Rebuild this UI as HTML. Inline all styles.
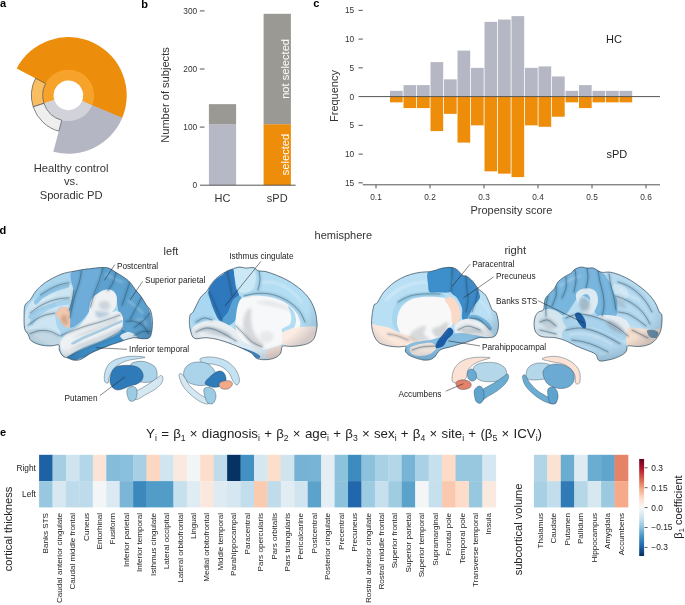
<!DOCTYPE html>
<html><head><meta charset="utf-8"><style>
html,body{margin:0;padding:0;background:#fff;width:685px;height:605px;overflow:hidden}
svg{display:block;font-family:"Liberation Sans", sans-serif;will-change:transform}
</style></head><body>
<svg width="685" height="605" viewBox="0 0 685 605">
<text x="0.00" y="7.20" font-size="11" text-anchor="start" fill="#000" font-weight="bold">a</text>
<text x="141.30" y="8.20" font-size="11" text-anchor="start" fill="#000" font-weight="bold">b</text>
<text x="313.30" y="7.30" font-size="11" text-anchor="start" fill="#000" font-weight="bold">c</text>
<text x="-0.60" y="234.20" font-size="11" text-anchor="start" fill="#000" font-weight="bold">d</text>
<text x="0.00" y="435.60" font-size="11" text-anchor="start" fill="#000" font-weight="bold">e</text>
<path d="M122.03,118.27 A58.3,58.3 0 0 0 16.69,68.48 L53.50,87.64 A16.8,16.8 0 0 1 83.85,101.99 Z" fill="#EC8D0B"/>
<path d="M53.31,151.71 A58.3,58.3 0 0 0 122.26,117.71 L83.92,101.83 A16.8,16.8 0 0 1 64.05,111.63 Z" fill="#B4B6C4"/>
<path d="M92.14,105.23 A25.7,25.7 0 1 0 44.04,103.60 L54.37,100.12 A14.8,14.8 0 1 1 82.07,101.06 Z" fill="#F7A32B"/>
<path d="M43.96,103.34 A25.7,25.7 0 0 0 92.14,105.23 L82.07,101.06 A14.8,14.8 0 0 1 54.32,99.97 Z" fill="#D1D2DA"/>
<path d="M35.58,78.32 A37.0,37.0 0 0 0 33.21,106.83 L43.96,103.34 A25.7,25.7 0 0 1 45.60,83.53 Z" fill="#F9BD62" stroke="#444" stroke-width="0.65"/>
<path d="M33.21,106.83 A37.0,37.0 0 0 0 58.82,131.14 L61.75,120.22 A25.7,25.7 0 0 1 43.96,103.34 Z" fill="#EEEEEE" stroke="#444" stroke-width="0.65"/>
<text x="71.10" y="171.50" font-size="11.2" text-anchor="middle" fill="#333">Healthy control</text>
<text x="71.10" y="185.40" font-size="11.2" text-anchor="middle" fill="#333">vs.</text>
<text x="71.10" y="199.00" font-size="11.2" text-anchor="middle" fill="#333">Sporadic PD</text>
<text x="197.20" y="188.15" font-size="8.3" text-anchor="end" fill="#333">0</text>
<line x1="199.8" y1="127.10" x2="204.5" y2="127.10" stroke="#555" stroke-width="1"/>
<text x="197.20" y="130.05" font-size="8.3" text-anchor="end" fill="#333">100</text>
<line x1="199.8" y1="69.00" x2="204.5" y2="69.00" stroke="#555" stroke-width="1"/>
<text x="197.20" y="71.95" font-size="8.3" text-anchor="end" fill="#333">200</text>
<line x1="199.8" y1="10.90" x2="204.5" y2="10.90" stroke="#555" stroke-width="1"/>
<text x="197.20" y="13.85" font-size="8.3" text-anchor="end" fill="#333">300</text>
<rect x="208.9" y="124.19" width="27.2" height="61.00" fill="#B7B8C5"/>
<rect x="208.9" y="104.15" width="27.2" height="20.04" fill="#9A9994"/>
<rect x="263.6" y="124.19" width="27.3" height="61.00" fill="#EE8D0A"/>
<rect x="263.6" y="13.81" width="27.3" height="110.39" fill="#9A9994"/>
<line x1="200" y1="185.2" x2="295.6" y2="185.2" stroke="#555" stroke-width="1"/>
<text x="222.50" y="201.50" font-size="11" text-anchor="middle" fill="#333">HC</text>
<text x="277.20" y="201.50" font-size="11" text-anchor="middle" fill="#333">sPD</text>
<text x="168.60" y="95.00" font-size="11.1" text-anchor="middle" fill="#333" transform="rotate(-90 168.6 95)">Number of subjects</text>
<text x="289.30" y="68.90" font-size="11.1" text-anchor="middle" fill="#fff" transform="rotate(-90 289.3 68.9)">not selected</text>
<text x="289.30" y="154.50" font-size="11.1" text-anchor="middle" fill="#fff" transform="rotate(-90 289.3 154.5)">selected</text>
<rect x="390.00" y="90.85" width="12.70" height="5.75" fill="#B5B7C5"/>
<rect x="390.00" y="96.60" width="12.70" height="5.75" fill="#EE8D0A"/>
<rect x="403.50" y="85.10" width="12.70" height="11.50" fill="#B5B7C5"/>
<rect x="403.50" y="96.60" width="12.70" height="11.50" fill="#EE8D0A"/>
<rect x="417.00" y="85.10" width="12.70" height="11.50" fill="#B5B7C5"/>
<rect x="417.00" y="96.60" width="12.70" height="11.50" fill="#EE8D0A"/>
<rect x="430.50" y="62.10" width="12.70" height="34.50" fill="#B5B7C5"/>
<rect x="430.50" y="96.60" width="12.70" height="34.50" fill="#EE8D0A"/>
<rect x="444.00" y="79.35" width="12.70" height="17.25" fill="#B5B7C5"/>
<rect x="444.00" y="96.60" width="12.70" height="17.25" fill="#EE8D0A"/>
<rect x="457.50" y="50.60" width="12.70" height="46.00" fill="#B5B7C5"/>
<rect x="457.50" y="96.60" width="12.70" height="46.00" fill="#EE8D0A"/>
<rect x="471.00" y="67.85" width="12.70" height="28.75" fill="#B5B7C5"/>
<rect x="471.00" y="96.60" width="12.70" height="28.75" fill="#EE8D0A"/>
<rect x="484.50" y="21.85" width="12.70" height="74.75" fill="#B5B7C5"/>
<rect x="484.50" y="96.60" width="12.70" height="74.75" fill="#EE8D0A"/>
<rect x="498.00" y="19.55" width="12.70" height="77.05" fill="#B5B7C5"/>
<rect x="498.00" y="96.60" width="12.70" height="77.05" fill="#EE8D0A"/>
<rect x="511.50" y="16.10" width="12.70" height="80.50" fill="#B5B7C5"/>
<rect x="511.50" y="96.60" width="12.70" height="80.50" fill="#EE8D0A"/>
<rect x="525.00" y="67.85" width="12.70" height="28.75" fill="#B5B7C5"/>
<rect x="525.00" y="96.60" width="12.70" height="28.75" fill="#EE8D0A"/>
<rect x="538.50" y="66.41" width="12.70" height="30.19" fill="#B5B7C5"/>
<rect x="538.50" y="96.60" width="12.70" height="30.19" fill="#EE8D0A"/>
<rect x="552.00" y="76.47" width="12.70" height="20.12" fill="#B5B7C5"/>
<rect x="552.00" y="96.60" width="12.70" height="20.12" fill="#EE8D0A"/>
<rect x="565.50" y="90.85" width="12.70" height="5.75" fill="#B5B7C5"/>
<rect x="565.50" y="96.60" width="12.70" height="5.75" fill="#EE8D0A"/>
<rect x="579.00" y="85.10" width="12.70" height="11.50" fill="#B5B7C5"/>
<rect x="579.00" y="96.60" width="12.70" height="11.50" fill="#EE8D0A"/>
<rect x="592.50" y="90.85" width="12.70" height="5.75" fill="#B5B7C5"/>
<rect x="592.50" y="96.60" width="12.70" height="5.75" fill="#EE8D0A"/>
<rect x="606.00" y="90.85" width="12.70" height="5.75" fill="#B5B7C5"/>
<rect x="606.00" y="96.60" width="12.70" height="5.75" fill="#EE8D0A"/>
<rect x="619.50" y="90.85" width="12.70" height="5.75" fill="#B5B7C5"/>
<rect x="619.50" y="96.60" width="12.70" height="5.75" fill="#EE8D0A"/>
<line x1="358.5" y1="96.6" x2="660" y2="96.6" stroke="#555" stroke-width="1"/>
<line x1="358.5" y1="10.35" x2="362.8" y2="10.35" stroke="#555" stroke-width="1"/>
<text x="354.20" y="13.30" font-size="8.3" text-anchor="end" fill="#333">15</text>
<line x1="358.5" y1="39.10" x2="362.8" y2="39.10" stroke="#555" stroke-width="1"/>
<text x="354.20" y="42.05" font-size="8.3" text-anchor="end" fill="#333">10</text>
<line x1="358.5" y1="67.85" x2="362.8" y2="67.85" stroke="#555" stroke-width="1"/>
<text x="354.20" y="70.80" font-size="8.3" text-anchor="end" fill="#333">5</text>
<text x="354.20" y="99.55" font-size="8.3" text-anchor="end" fill="#333">0</text>
<line x1="358.5" y1="125.35" x2="362.8" y2="125.35" stroke="#555" stroke-width="1"/>
<text x="354.20" y="128.30" font-size="8.3" text-anchor="end" fill="#333">5</text>
<line x1="358.5" y1="154.10" x2="362.8" y2="154.10" stroke="#555" stroke-width="1"/>
<text x="354.20" y="157.05" font-size="8.3" text-anchor="end" fill="#333">10</text>
<line x1="358.5" y1="182.85" x2="362.8" y2="182.85" stroke="#555" stroke-width="1"/>
<text x="354.20" y="185.80" font-size="8.3" text-anchor="end" fill="#333">15</text>
<line x1="362.8" y1="184.8" x2="660" y2="184.8" stroke="#555" stroke-width="1"/>
<line x1="376.00" y1="184.8" x2="376.00" y2="188.40" stroke="#555" stroke-width="1"/>
<text x="376.00" y="200.30" font-size="8.3" text-anchor="middle" fill="#333">0.1</text>
<line x1="430.00" y1="184.8" x2="430.00" y2="188.40" stroke="#555" stroke-width="1"/>
<text x="430.00" y="200.30" font-size="8.3" text-anchor="middle" fill="#333">0.2</text>
<line x1="484.00" y1="184.8" x2="484.00" y2="188.40" stroke="#555" stroke-width="1"/>
<text x="484.00" y="200.30" font-size="8.3" text-anchor="middle" fill="#333">0.3</text>
<line x1="538.00" y1="184.8" x2="538.00" y2="188.40" stroke="#555" stroke-width="1"/>
<text x="538.00" y="200.30" font-size="8.3" text-anchor="middle" fill="#333">0.4</text>
<line x1="592.00" y1="184.8" x2="592.00" y2="188.40" stroke="#555" stroke-width="1"/>
<text x="592.00" y="200.30" font-size="8.3" text-anchor="middle" fill="#333">0.5</text>
<line x1="646.00" y1="184.8" x2="646.00" y2="188.40" stroke="#555" stroke-width="1"/>
<text x="646.00" y="200.30" font-size="8.3" text-anchor="middle" fill="#333">0.6</text>
<text x="511.40" y="213.60" font-size="11" text-anchor="middle" fill="#333">Propensity score</text>
<text x="337.50" y="96.00" font-size="11" text-anchor="middle" fill="#333" transform="rotate(-90 337.5 96)">Frequency</text>
<text x="606.00" y="43.20" font-size="11" text-anchor="start" fill="#222">HC</text>
<text x="606.50" y="157.80" font-size="11" text-anchor="start" fill="#222">sPD</text>
<text x="314.60" y="239.20" font-size="11" text-anchor="start" fill="#333">hemisphere</text>
<text x="163.60" y="254.60" font-size="11" text-anchor="start" fill="#333">left</text>
<text x="504.40" y="254.00" font-size="11.2" text-anchor="start" fill="#333">right</text>
<defs><filter id="soft" x="-5%" y="-5%" width="110%" height="110%"><feGaussianBlur stdDeviation="0.35"/></filter><filter id="blur2" x="-20%" y="-20%" width="140%" height="140%"><feGaussianBlur stdDeviation="1.6"/></filter><filter id="blur1" x="-20%" y="-20%" width="140%" height="140%"><feGaussianBlur stdDeviation="0.8"/></filter><filter id="contour" x="0" y="0" width="100%" height="100%" color-interpolation-filters="sRGB"><feTurbulence type="fractalNoise" baseFrequency="0.05 0.065" numOctaves="1" seed="11" result="n"/><feColorMatrix in="n" type="matrix" values="0 0 0 0 0  0 0 0 0 0  0 0 0 0 0  1 0 0 0 0" result="a"/><feComponentTransfer in="a" result="b"><feFuncA type="table" tableValues="0 0 0 0 0 1 0 0 0 0 0 1 0 0 0 0 0 0"/></feComponentTransfer><feFlood flood-color="#1F3A50" result="f"/><feComposite in="f" in2="b" operator="in" result="c"/><feComposite in="c" in2="SourceAlpha" operator="in"/></filter><radialGradient id="shade" cx="0.45" cy="0.4" r="0.6"><stop offset="0.8" stop-color="#1E3A52" stop-opacity="0"/><stop offset="1" stop-color="#1E3A52" stop-opacity="0.18"/></radialGradient></defs>
<clipPath id="b1"><path d="M25.10,305.00 C24.08,307.55 24.18,311.28 24.10,315.20 C24.02,319.12 23.92,325.27 24.60,328.50 C25.28,331.73 27.10,332.55 28.20,334.60 C29.30,336.65 29.17,339.08 31.20,340.80 C33.23,342.52 37.15,344.05 40.40,344.90 C43.65,345.75 47.63,345.90 50.70,345.90 C53.77,345.90 57.37,344.22 58.80,344.90 C60.23,345.58 58.62,348.13 59.30,350.00 C59.98,351.87 61.45,354.75 62.90,356.10 C64.35,357.45 66.12,357.42 68.00,358.10 C69.88,358.78 71.98,360.02 74.20,360.20 C76.42,360.38 78.48,360.40 81.30,359.20 C84.12,358.00 87.93,354.72 91.10,353.00 C94.27,351.28 97.07,350.25 100.30,348.90 C103.53,347.55 107.43,346.00 110.50,344.90 C113.57,343.80 116.13,343.17 118.70,342.30 C121.27,341.43 123.35,340.47 125.90,339.70 C128.45,338.93 131.28,337.87 134.00,337.70 C136.72,337.53 139.63,338.70 142.20,338.70 C144.77,338.70 147.78,339.07 149.40,337.70 C151.02,336.33 151.40,333.40 151.90,330.50 C152.40,327.60 152.65,323.70 152.40,320.30 C152.15,316.90 151.42,312.67 150.40,310.10 C149.38,307.53 147.83,307.13 146.30,304.90 C144.77,302.67 142.90,299.08 141.20,296.70 C139.50,294.32 137.97,292.98 136.10,290.60 C134.23,288.22 132.05,284.62 130.00,282.40 C127.95,280.18 126.18,279.00 123.80,277.30 C121.42,275.60 118.25,273.73 115.70,272.20 C113.15,270.67 111.07,268.87 108.50,268.10 C105.93,267.33 103.20,267.52 100.30,267.60 C97.40,267.68 93.58,268.33 91.10,268.60 C88.62,268.87 88.22,268.77 85.40,269.20 C82.58,269.63 78.28,270.35 74.20,271.20 C70.12,272.05 65.68,272.43 60.90,274.30 C56.12,276.17 49.65,279.62 45.50,282.40 C41.35,285.18 38.55,288.08 36.00,291.00 C33.45,293.92 32.02,297.57 30.20,299.90 C28.38,302.23 26.12,302.45 25.10,305.00 Z"/></clipPath>
<g clip-path="url(#b1)">
<path d="M25.10,305.00 C24.08,307.55 24.18,311.28 24.10,315.20 C24.02,319.12 23.92,325.27 24.60,328.50 C25.28,331.73 27.10,332.55 28.20,334.60 C29.30,336.65 29.17,339.08 31.20,340.80 C33.23,342.52 37.15,344.05 40.40,344.90 C43.65,345.75 47.63,345.90 50.70,345.90 C53.77,345.90 57.37,344.22 58.80,344.90 C60.23,345.58 58.62,348.13 59.30,350.00 C59.98,351.87 61.45,354.75 62.90,356.10 C64.35,357.45 66.12,357.42 68.00,358.10 C69.88,358.78 71.98,360.02 74.20,360.20 C76.42,360.38 78.48,360.40 81.30,359.20 C84.12,358.00 87.93,354.72 91.10,353.00 C94.27,351.28 97.07,350.25 100.30,348.90 C103.53,347.55 107.43,346.00 110.50,344.90 C113.57,343.80 116.13,343.17 118.70,342.30 C121.27,341.43 123.35,340.47 125.90,339.70 C128.45,338.93 131.28,337.87 134.00,337.70 C136.72,337.53 139.63,338.70 142.20,338.70 C144.77,338.70 147.78,339.07 149.40,337.70 C151.02,336.33 151.40,333.40 151.90,330.50 C152.40,327.60 152.65,323.70 152.40,320.30 C152.15,316.90 151.42,312.67 150.40,310.10 C149.38,307.53 147.83,307.13 146.30,304.90 C144.77,302.67 142.90,299.08 141.20,296.70 C139.50,294.32 137.97,292.98 136.10,290.60 C134.23,288.22 132.05,284.62 130.00,282.40 C127.95,280.18 126.18,279.00 123.80,277.30 C121.42,275.60 118.25,273.73 115.70,272.20 C113.15,270.67 111.07,268.87 108.50,268.10 C105.93,267.33 103.20,267.52 100.30,267.60 C97.40,267.68 93.58,268.33 91.10,268.60 C88.62,268.87 88.22,268.77 85.40,269.20 C82.58,269.63 78.28,270.35 74.20,271.20 C70.12,272.05 65.68,272.43 60.90,274.30 C56.12,276.17 49.65,279.62 45.50,282.40 C41.35,285.18 38.55,288.08 36.00,291.00 C33.45,293.92 32.02,297.57 30.20,299.90 C28.38,302.23 26.12,302.45 25.10,305.00 Z" fill="#A9D5EE"/>
<g filter="url(#soft)">
<path d="M26.13,311.09 C27.49,307.69 29.20,303.60 32.26,300.87 C35.33,298.15 40.44,296.96 44.52,294.74 C48.61,292.53 52.70,289.57 56.79,287.59 C60.87,285.61 66.26,282.38 69.05,282.89 C71.84,283.40 73.14,287.66 73.55,290.66 C73.95,293.65 72.25,297.81 71.50,300.87 C70.75,303.94 70.65,308.10 69.05,309.05 C67.45,310.00 64.11,305.92 61.90,306.60 C59.68,307.28 56.62,310.00 55.77,313.14 C54.91,316.27 55.94,321.99 56.79,325.40 C57.64,328.81 60.47,330.51 60.87,333.57 C61.28,336.64 61.96,342.09 59.24,343.79 C56.51,345.50 49.02,344.47 44.52,343.79 C40.03,343.11 35.50,341.75 32.26,339.71 C29.03,337.66 26.47,334.60 25.11,331.53 C23.75,328.47 23.92,324.72 24.09,321.31 C24.26,317.91 24.77,314.50 26.13,311.09 Z" fill="#CDE5F2"/>
<path d="M30.22,321.31 C31.24,318.93 35.33,313.82 38.39,311.09 C41.46,308.37 45.21,306.67 48.61,304.96 C52.02,303.26 55.42,301.90 58.83,300.87 C62.24,299.85 67.41,298.32 69.05,298.83 C70.68,299.34 70.34,302.75 68.64,303.94 C66.94,305.13 62.17,304.96 58.83,305.98 C55.49,307.01 51.85,308.37 48.61,310.07 C45.38,311.77 42.14,313.65 39.42,316.20 C36.69,318.76 33.80,324.55 32.26,325.40 C30.73,326.25 29.20,323.70 30.22,321.31 Z" fill="#A9D3EC"/>
<path d="M25.11,331.53 C25.79,329.76 32.09,328.87 36.35,329.08 C40.61,329.28 46.74,331.16 50.66,332.76 C54.57,334.36 58.32,336.67 59.85,338.68 C61.39,340.69 62.41,343.90 59.85,344.82 C57.30,345.73 49.12,345.05 44.52,344.20 C39.93,343.35 35.50,341.82 32.26,339.71 C29.03,337.59 24.43,333.30 25.11,331.53 Z" fill="#C3D8E4"/>
<path d="M34.31,300.87 C35.33,299.00 39.42,295.77 42.48,293.72 C45.55,291.68 49.29,290.08 52.70,288.61 C56.11,287.15 60.19,285.68 62.92,284.93 C65.64,284.18 68.16,283.67 69.05,284.12 C69.94,284.56 69.59,286.67 68.23,287.59 C66.87,288.51 63.80,288.61 60.87,289.63 C57.95,290.66 53.72,292.19 50.66,293.72 C47.59,295.25 44.87,296.96 42.48,298.83 C40.10,300.70 37.71,304.62 36.35,304.96 C34.99,305.30 33.28,302.75 34.31,300.87 Z" fill="#8FC5E5"/>
<path d="M28.17,317.22 C28.52,315.86 31.92,312.80 34.31,311.09 C36.69,309.39 39.76,308.20 42.48,307.01 C45.21,305.81 48.44,304.62 50.66,303.94 C52.87,303.26 55.08,302.48 55.77,302.92 C56.45,303.36 55.94,305.75 54.74,306.60 C53.55,307.45 51.00,307.11 48.61,308.03 C46.23,308.95 43.16,310.24 40.44,312.12 C37.71,313.99 34.31,318.42 32.26,319.27 C30.22,320.12 27.83,318.59 28.17,317.22 Z" fill="#9FCEEA"/>
<path d="M71.09,272.67 C73.75,268.92 84.21,269.09 89.49,268.17 C94.77,267.26 100.73,265.79 102.77,267.15 C104.82,268.52 102.87,272.43 101.75,276.35 C100.63,280.27 97.66,285.89 96.03,290.66 C94.39,295.42 93.03,301.56 91.94,304.96 C90.85,308.37 91.26,308.37 89.49,311.09 C87.72,313.82 84.38,318.52 81.31,321.31 C78.25,324.11 73.21,327.85 71.09,327.85 C68.98,327.85 68.98,324.11 68.64,321.31 C68.30,318.52 68.57,314.50 69.05,311.09 C69.53,307.69 70.75,304.28 71.50,300.87 C72.25,297.47 73.61,295.36 73.55,290.66 C73.48,285.96 68.44,276.42 71.09,272.67 Z" fill="#6EADD9"/>
<path d="M102.77,267.15 C105.16,266.30 111.46,269.03 116.06,271.24 C120.65,273.45 125.93,276.52 130.36,280.44 C134.79,284.35 139.39,289.46 142.62,294.74 C145.86,300.02 148.24,306.67 149.78,312.12 C151.31,317.57 151.99,322.50 151.82,327.44 C151.65,332.38 150.63,338.96 148.76,341.75 C146.88,344.54 143.65,344.37 140.58,344.20 C137.51,344.03 133.09,341.82 130.36,340.73 C127.64,339.64 125.42,340.22 124.23,337.66 C123.04,335.11 124.06,329.21 123.21,325.40 C122.36,321.58 120.25,318.86 119.12,314.77 C118.00,310.68 117.59,304.96 116.46,300.87 C115.34,296.79 114.83,291.95 112.38,290.25 C109.92,288.54 104.88,288.88 101.75,290.66 C98.62,292.43 95.62,297.47 93.57,300.87 C91.53,304.28 89.76,310.41 89.49,311.09 C89.21,311.77 90.85,308.37 91.94,304.96 C93.03,301.56 94.39,295.42 96.03,290.66 C97.66,285.89 100.63,280.27 101.75,276.35 C102.87,272.43 100.39,268.00 102.77,267.15 Z" fill="#5CA1CF"/>
<path d="M88.47,313.55 C89.90,310.24 89.04,306.73 89.90,303.94 C90.75,301.15 91.77,298.83 93.57,296.79 C95.38,294.74 98.34,292.87 100.73,291.68 C103.11,290.49 105.67,289.63 107.88,289.63 C110.09,289.63 112.51,290.32 114.01,291.68 C115.51,293.04 116.53,295.42 116.87,297.81 C117.21,300.19 116.80,303.60 116.06,305.98 C115.31,308.37 112.38,311.26 112.38,312.12 C112.38,312.97 114.69,310.99 116.06,311.09 C117.42,311.20 119.39,311.54 120.55,312.73 C121.71,313.92 122.73,316.07 123.00,318.25 C123.28,320.43 123.00,323.59 122.19,325.81 C121.37,328.02 120.14,329.83 118.10,331.53 C116.06,333.23 112.65,334.60 109.92,336.03 C107.20,337.46 104.82,338.82 101.75,340.11 C98.68,341.41 94.94,342.43 91.53,343.79 C88.12,345.16 84.38,346.76 81.31,348.29 C78.25,349.82 75.45,351.49 73.14,352.99 C70.82,354.49 69.12,357.04 67.41,357.28 C65.71,357.52 64.08,355.99 62.92,354.42 C61.76,352.85 60.81,350.16 60.47,347.88 C60.13,345.60 59.96,343.04 60.87,340.73 C61.79,338.41 63.94,335.86 65.98,333.98 C68.03,332.11 70.58,331.19 73.14,329.49 C75.69,327.78 78.76,326.42 81.31,323.76 C83.87,321.11 87.03,316.85 88.47,313.55 Z" fill="#EEF1F3"/>
<path d="M72.12,342.16 C74.16,340.66 80.46,337.87 85.40,335.62 C90.34,333.37 96.64,330.85 101.75,328.67 C106.86,326.49 112.72,323.97 116.06,322.54 C119.39,321.11 120.76,320.15 121.78,320.09 C122.80,320.02 123.14,321.31 122.19,322.13 C121.23,322.95 119.46,323.42 116.06,324.99 C112.65,326.56 106.86,329.28 101.75,331.53 C96.64,333.78 90.17,336.30 85.40,338.48 C80.63,340.66 75.35,344.00 73.14,344.61 C70.92,345.22 70.07,343.66 72.12,342.16 Z" fill="#A9CDE4"/>
<path d="M66.60,357.69 C67.79,355.92 75.45,352.58 81.31,349.92 C87.17,347.27 95.62,344.41 101.75,341.75 C107.88,339.09 114.62,336.03 118.10,333.98 C121.57,331.94 121.16,329.49 122.60,329.49 C124.03,329.49 126.34,332.42 126.68,333.98 C127.02,335.55 126.07,337.25 124.64,338.89 C123.21,340.52 121.23,341.95 118.10,343.79 C114.97,345.63 111.97,347.54 105.84,349.92 C99.71,352.31 86.59,356.33 81.31,358.10 C76.03,359.87 76.61,360.62 74.16,360.55 C71.71,360.48 65.41,359.46 66.60,357.69 Z" fill="#3E8DC6"/>
<path d="M120.14,336.03 C120.48,334.49 125.59,331.94 128.32,331.94 C131.04,331.94 135.47,334.32 136.49,336.03 C137.51,337.73 136.15,341.31 134.45,342.16 C132.75,343.01 128.66,342.16 126.27,341.14 C123.89,340.11 119.80,337.56 120.14,336.03 Z" fill="#DCE8F0"/>
<path d="M55.77,313.55 C56.28,311.43 60.70,307.69 62.92,307.01 C65.13,306.32 67.82,307.07 69.05,309.46 C70.28,311.84 70.28,318.25 70.28,321.31 C70.28,324.38 70.11,327.10 69.05,327.85 C67.99,328.60 65.47,327.17 63.94,325.81 C62.41,324.45 61.22,321.72 59.85,319.68 C58.49,317.63 55.25,315.66 55.77,313.55 Z" fill="#F1C8AD"/>
</g>
<g filter="url(#blur2)">
<path d="M69.05,349.92 C69.05,349.41 76.54,345.84 81.31,343.79 C86.08,341.75 92.21,339.88 97.66,337.66 C103.11,335.45 110.27,332.21 114.01,330.51 C117.76,328.81 119.46,327.27 120.14,327.44 C120.82,327.61 121.16,329.66 118.10,331.53 C115.03,333.40 107.88,336.13 101.75,338.68 C95.62,341.24 86.76,344.99 81.31,346.86 C75.86,348.73 69.05,350.44 69.05,349.92 Z" fill="#A8B6C2" fill-opacity="0.6"/>
<path d="M73.14,337.66 C73.14,337.15 80.63,333.57 85.40,331.53 C90.17,329.49 96.64,327.44 101.75,325.40 C106.86,323.36 113.33,319.95 116.06,319.27 C118.78,318.59 120.48,319.78 118.10,321.31 C115.71,322.84 107.20,326.25 101.75,328.47 C96.30,330.68 90.17,333.06 85.40,334.60 C80.63,336.13 73.14,338.17 73.14,337.66 Z" fill="#A0AEBA" fill-opacity="0.4"/>
<path d="M98.68,303.94 C99.19,302.58 102.09,301.11 103.79,300.87 C105.50,300.64 107.88,301.42 108.90,302.51 C109.92,303.60 110.44,306.15 109.92,307.41 C109.41,308.67 107.37,309.80 105.84,310.07 C104.30,310.34 101.92,310.07 100.73,309.05 C99.54,308.03 98.17,305.30 98.68,303.94 Z" fill="#9CAAB6" fill-opacity="0.4"/>
<path d="M95.62,311.09 C96.30,310.17 99.37,311.84 101.75,312.12 C104.13,312.39 109.24,312.05 109.92,312.73 C110.61,313.41 107.88,315.39 105.84,316.20 C103.79,317.02 99.37,318.48 97.66,317.63 C95.96,316.78 94.94,312.01 95.62,311.09 Z" fill="#7FA6C4" fill-opacity="0.5"/>
<path d="M60.87,317.22 C61.22,315.69 64.79,314.16 65.98,315.18 C67.18,316.20 68.37,321.82 68.03,323.36 C67.69,324.89 65.13,325.40 63.94,324.38 C62.75,323.36 60.53,318.76 60.87,317.22 Z" fill="#B07F62" fill-opacity="0.45"/>
</g>
<g filter="url(#blur1)">
<path d="M32.26,309.05 C33.97,307.69 38.73,303.26 42.48,300.87 C46.23,298.49 52.70,295.77 54.74,294.74" fill="none" stroke="#FFFFFF" stroke-width="1.6" stroke-opacity="0.35" stroke-linecap="round" stroke-linejoin="round"/>
<path d="M105.84,274.31 C107.20,274.99 111.29,277.03 114.01,278.39 C116.74,279.76 120.82,281.80 122.19,282.48" fill="none" stroke="#FFFFFF" stroke-width="1.4" stroke-opacity="0.35" stroke-linecap="round" stroke-linejoin="round"/>
<path d="M128.32,300.87 C129.68,301.90 134.11,304.96 136.49,307.01 C138.88,309.05 141.60,312.12 142.62,313.14" fill="none" stroke="#FFFFFF" stroke-width="1.4" stroke-opacity="0.35" stroke-linecap="round" stroke-linejoin="round"/>
<path d="M134.45,321.31 C135.81,320.97 140.58,318.59 142.62,319.27 C144.67,319.95 146.03,324.38 146.71,325.40" fill="none" stroke="#FFFFFF" stroke-width="1.4" stroke-opacity="0.35" stroke-linecap="round" stroke-linejoin="round"/>
</g>
<g filter="url(#blur1)">
<path d="M40.44,294.74 C42.14,293.72 47.25,290.32 50.66,288.61 C54.06,286.91 57.81,285.48 60.87,284.52 C63.94,283.57 67.69,283.16 69.05,282.89" fill="none" stroke="#1F4763" stroke-width="2.6" stroke-opacity="0.22" stroke-linecap="round" stroke-linejoin="round"/>
<path d="M30.22,313.14 C31.58,312.12 35.33,308.88 38.39,307.01 C41.46,305.13 45.21,303.26 48.61,301.90 C52.02,300.53 55.42,299.51 58.83,298.83 C62.24,298.15 67.35,297.98 69.05,297.81" fill="none" stroke="#1F4763" stroke-width="2.6" stroke-opacity="0.22" stroke-linecap="round" stroke-linejoin="round"/>
<path d="M28.17,325.40 C29.54,324.38 33.62,320.97 36.35,319.27 C39.07,317.57 41.46,316.20 44.52,315.18 C47.59,314.16 53.04,313.48 54.74,313.14" fill="none" stroke="#1F4763" stroke-width="2.6" stroke-opacity="0.22" stroke-linecap="round" stroke-linejoin="round"/>
<path d="M30.22,333.57 C31.92,333.06 37.03,330.85 40.44,330.51 C43.84,330.17 47.59,330.68 50.66,331.53 C53.72,332.38 57.47,334.94 58.83,335.62" fill="none" stroke="#1F4763" stroke-width="2.6" stroke-opacity="0.22" stroke-linecap="round" stroke-linejoin="round"/>
<path d="M73.55,290.66 C73.31,292.36 72.80,297.64 72.12,300.87 C71.43,304.11 69.90,308.54 69.46,310.07" fill="none" stroke="#1F4763" stroke-width="2.6" stroke-opacity="0.22" stroke-linecap="round" stroke-linejoin="round"/>
<path d="M81.31,271.24 C80.97,273.11 80.29,278.56 79.27,282.48 C78.25,286.40 76.37,290.66 75.18,294.74 C73.99,298.83 72.97,303.26 72.12,307.01 C71.26,310.75 70.41,315.52 70.07,317.22" fill="none" stroke="#1F4763" stroke-width="2.6" stroke-opacity="0.22" stroke-linecap="round" stroke-linejoin="round"/>
<path d="M102.77,267.77 C102.26,269.71 101.07,275.26 99.71,279.42 C98.34,283.57 96.13,288.10 94.60,292.70 C93.06,297.30 91.19,304.62 90.51,307.01" fill="none" stroke="#1F4763" stroke-width="2.6" stroke-opacity="0.22" stroke-linecap="round" stroke-linejoin="round"/>
<path d="M116.06,271.85 C115.54,273.62 114.35,279.35 112.99,282.48 C111.63,285.61 108.73,289.29 107.88,290.66" fill="none" stroke="#1F4763" stroke-width="2.6" stroke-opacity="0.22" stroke-linecap="round" stroke-linejoin="round"/>
<path d="M130.36,280.44 C129.68,282.48 127.64,288.61 126.27,292.70 C124.91,296.79 122.87,302.92 122.19,304.96" fill="none" stroke="#1F4763" stroke-width="2.6" stroke-opacity="0.22" stroke-linecap="round" stroke-linejoin="round"/>
<path d="M142.62,295.77 C141.60,297.64 138.54,303.09 136.49,307.01 C134.45,310.92 131.38,317.22 130.36,319.27" fill="none" stroke="#1F4763" stroke-width="2.6" stroke-opacity="0.22" stroke-linecap="round" stroke-linejoin="round"/>
<path d="M149.78,313.14 C148.59,314.50 145.18,318.93 142.62,321.31 C140.07,323.70 135.81,326.42 134.45,327.44" fill="none" stroke="#1F4763" stroke-width="2.6" stroke-opacity="0.22" stroke-linecap="round" stroke-linejoin="round"/>
<path d="M150.80,331.53 C149.44,331.53 145.35,330.85 142.62,331.53 C139.90,332.21 135.81,334.94 134.45,335.62" fill="none" stroke="#1F4763" stroke-width="2.6" stroke-opacity="0.22" stroke-linecap="round" stroke-linejoin="round"/>
<path d="M126.27,321.31 C127.64,321.31 131.72,320.63 134.45,321.31 C137.17,321.99 140.24,323.36 142.62,325.40 C145.01,327.44 147.73,332.21 148.76,333.57" fill="none" stroke="#1F4763" stroke-width="2.6" stroke-opacity="0.22" stroke-linecap="round" stroke-linejoin="round"/>
<path d="M60.00,336.00 C62.00,335.17 67.67,332.67 72.00,331.00 C76.33,329.33 81.33,327.50 86.00,326.00 C90.67,324.50 95.67,323.33 100.00,322.00 C104.33,320.67 108.67,319.17 112.00,318.00 C115.33,316.83 118.67,315.50 120.00,315.00" fill="none" stroke="#1F4763" stroke-width="2.6" stroke-opacity="0.22" stroke-linecap="round" stroke-linejoin="round"/>
<path d="M67.41,357.28 C69.73,355.99 75.59,352.17 81.31,349.52 C87.03,346.86 95.55,344.17 101.75,341.34 C107.95,338.51 114.93,334.87 118.51,332.55 C122.08,330.24 122.43,328.29 123.21,327.44" fill="none" stroke="#1F4763" stroke-width="2.6" stroke-opacity="0.22" stroke-linecap="round" stroke-linejoin="round"/>
</g>
<path d="M40.44,294.74 C42.14,293.72 47.25,290.32 50.66,288.61 C54.06,286.91 57.81,285.48 60.87,284.52 C63.94,283.57 67.69,283.16 69.05,282.89" fill="none" stroke="#27465E" stroke-width="0.6" stroke-opacity="0.7" stroke-linecap="round" stroke-linejoin="round"/>
<path d="M30.22,313.14 C31.58,312.12 35.33,308.88 38.39,307.01 C41.46,305.13 45.21,303.26 48.61,301.90 C52.02,300.53 55.42,299.51 58.83,298.83 C62.24,298.15 67.35,297.98 69.05,297.81" fill="none" stroke="#27465E" stroke-width="0.6" stroke-opacity="0.7" stroke-linecap="round" stroke-linejoin="round"/>
<path d="M28.17,325.40 C29.54,324.38 33.62,320.97 36.35,319.27 C39.07,317.57 41.46,316.20 44.52,315.18 C47.59,314.16 53.04,313.48 54.74,313.14" fill="none" stroke="#27465E" stroke-width="0.6" stroke-opacity="0.7" stroke-linecap="round" stroke-linejoin="round"/>
<path d="M30.22,333.57 C31.92,333.06 37.03,330.85 40.44,330.51 C43.84,330.17 47.59,330.68 50.66,331.53 C53.72,332.38 57.47,334.94 58.83,335.62" fill="none" stroke="#27465E" stroke-width="0.6" stroke-opacity="0.7" stroke-linecap="round" stroke-linejoin="round"/>
<path d="M73.55,290.66 C73.31,292.36 72.80,297.64 72.12,300.87 C71.43,304.11 69.90,308.54 69.46,310.07" fill="none" stroke="#27465E" stroke-width="0.6" stroke-opacity="0.7" stroke-linecap="round" stroke-linejoin="round"/>
<path d="M81.31,271.24 C80.97,273.11 80.29,278.56 79.27,282.48 C78.25,286.40 76.37,290.66 75.18,294.74 C73.99,298.83 72.97,303.26 72.12,307.01 C71.26,310.75 70.41,315.52 70.07,317.22" fill="none" stroke="#27465E" stroke-width="0.6" stroke-opacity="0.7" stroke-linecap="round" stroke-linejoin="round"/>
<path d="M102.77,267.77 C102.26,269.71 101.07,275.26 99.71,279.42 C98.34,283.57 96.13,288.10 94.60,292.70 C93.06,297.30 91.19,304.62 90.51,307.01" fill="none" stroke="#27465E" stroke-width="0.6" stroke-opacity="0.7" stroke-linecap="round" stroke-linejoin="round"/>
<path d="M116.06,271.85 C115.54,273.62 114.35,279.35 112.99,282.48 C111.63,285.61 108.73,289.29 107.88,290.66" fill="none" stroke="#27465E" stroke-width="0.6" stroke-opacity="0.7" stroke-linecap="round" stroke-linejoin="round"/>
<path d="M130.36,280.44 C129.68,282.48 127.64,288.61 126.27,292.70 C124.91,296.79 122.87,302.92 122.19,304.96" fill="none" stroke="#27465E" stroke-width="0.6" stroke-opacity="0.7" stroke-linecap="round" stroke-linejoin="round"/>
<path d="M142.62,295.77 C141.60,297.64 138.54,303.09 136.49,307.01 C134.45,310.92 131.38,317.22 130.36,319.27" fill="none" stroke="#27465E" stroke-width="0.6" stroke-opacity="0.7" stroke-linecap="round" stroke-linejoin="round"/>
<path d="M149.78,313.14 C148.59,314.50 145.18,318.93 142.62,321.31 C140.07,323.70 135.81,326.42 134.45,327.44" fill="none" stroke="#27465E" stroke-width="0.6" stroke-opacity="0.7" stroke-linecap="round" stroke-linejoin="round"/>
<path d="M150.80,331.53 C149.44,331.53 145.35,330.85 142.62,331.53 C139.90,332.21 135.81,334.94 134.45,335.62" fill="none" stroke="#27465E" stroke-width="0.6" stroke-opacity="0.7" stroke-linecap="round" stroke-linejoin="round"/>
<path d="M126.27,321.31 C127.64,321.31 131.72,320.63 134.45,321.31 C137.17,321.99 140.24,323.36 142.62,325.40 C145.01,327.44 147.73,332.21 148.76,333.57" fill="none" stroke="#27465E" stroke-width="0.6" stroke-opacity="0.7" stroke-linecap="round" stroke-linejoin="round"/>
<path d="M60.00,336.00 C62.00,335.17 67.67,332.67 72.00,331.00 C76.33,329.33 81.33,327.50 86.00,326.00 C90.67,324.50 95.67,323.33 100.00,322.00 C104.33,320.67 108.67,319.17 112.00,318.00 C115.33,316.83 118.67,315.50 120.00,315.00" fill="none" stroke="#27465E" stroke-width="0.6" stroke-opacity="0.6" stroke-linecap="round" stroke-linejoin="round"/>
<path d="M67.41,357.28 C69.73,355.99 75.59,352.17 81.31,349.52 C87.03,346.86 95.55,344.17 101.75,341.34 C107.95,338.51 114.93,334.87 118.51,332.55 C122.08,330.24 122.43,328.29 123.21,327.44" fill="none" stroke="#27465E" stroke-width="0.6" stroke-opacity="0.7" stroke-linecap="round" stroke-linejoin="round"/>
<path d="M25.10,305.00 C24.08,307.55 24.18,311.28 24.10,315.20 C24.02,319.12 23.92,325.27 24.60,328.50 C25.28,331.73 27.10,332.55 28.20,334.60 C29.30,336.65 29.17,339.08 31.20,340.80 C33.23,342.52 37.15,344.05 40.40,344.90 C43.65,345.75 47.63,345.90 50.70,345.90 C53.77,345.90 57.37,344.22 58.80,344.90 C60.23,345.58 58.62,348.13 59.30,350.00 C59.98,351.87 61.45,354.75 62.90,356.10 C64.35,357.45 66.12,357.42 68.00,358.10 C69.88,358.78 71.98,360.02 74.20,360.20 C76.42,360.38 78.48,360.40 81.30,359.20 C84.12,358.00 87.93,354.72 91.10,353.00 C94.27,351.28 97.07,350.25 100.30,348.90 C103.53,347.55 107.43,346.00 110.50,344.90 C113.57,343.80 116.13,343.17 118.70,342.30 C121.27,341.43 123.35,340.47 125.90,339.70 C128.45,338.93 131.28,337.87 134.00,337.70 C136.72,337.53 139.63,338.70 142.20,338.70 C144.77,338.70 147.78,339.07 149.40,337.70 C151.02,336.33 151.40,333.40 151.90,330.50 C152.40,327.60 152.65,323.70 152.40,320.30 C152.15,316.90 151.42,312.67 150.40,310.10 C149.38,307.53 147.83,307.13 146.30,304.90 C144.77,302.67 142.90,299.08 141.20,296.70 C139.50,294.32 137.97,292.98 136.10,290.60 C134.23,288.22 132.05,284.62 130.00,282.40 C127.95,280.18 126.18,279.00 123.80,277.30 C121.42,275.60 118.25,273.73 115.70,272.20 C113.15,270.67 111.07,268.87 108.50,268.10 C105.93,267.33 103.20,267.52 100.30,267.60 C97.40,267.68 93.58,268.33 91.10,268.60 C88.62,268.87 88.22,268.77 85.40,269.20 C82.58,269.63 78.28,270.35 74.20,271.20 C70.12,272.05 65.68,272.43 60.90,274.30 C56.12,276.17 49.65,279.62 45.50,282.40 C41.35,285.18 38.55,288.08 36.00,291.00 C33.45,293.92 32.02,297.57 30.20,299.90 C28.38,302.23 26.12,302.45 25.10,305.00 Z" fill="url(#shade)"/>
</g>
<path d="M25.10,305.00 C24.08,307.55 24.18,311.28 24.10,315.20 C24.02,319.12 23.92,325.27 24.60,328.50 C25.28,331.73 27.10,332.55 28.20,334.60 C29.30,336.65 29.17,339.08 31.20,340.80 C33.23,342.52 37.15,344.05 40.40,344.90 C43.65,345.75 47.63,345.90 50.70,345.90 C53.77,345.90 57.37,344.22 58.80,344.90 C60.23,345.58 58.62,348.13 59.30,350.00 C59.98,351.87 61.45,354.75 62.90,356.10 C64.35,357.45 66.12,357.42 68.00,358.10 C69.88,358.78 71.98,360.02 74.20,360.20 C76.42,360.38 78.48,360.40 81.30,359.20 C84.12,358.00 87.93,354.72 91.10,353.00 C94.27,351.28 97.07,350.25 100.30,348.90 C103.53,347.55 107.43,346.00 110.50,344.90 C113.57,343.80 116.13,343.17 118.70,342.30 C121.27,341.43 123.35,340.47 125.90,339.70 C128.45,338.93 131.28,337.87 134.00,337.70 C136.72,337.53 139.63,338.70 142.20,338.70 C144.77,338.70 147.78,339.07 149.40,337.70 C151.02,336.33 151.40,333.40 151.90,330.50 C152.40,327.60 152.65,323.70 152.40,320.30 C152.15,316.90 151.42,312.67 150.40,310.10 C149.38,307.53 147.83,307.13 146.30,304.90 C144.77,302.67 142.90,299.08 141.20,296.70 C139.50,294.32 137.97,292.98 136.10,290.60 C134.23,288.22 132.05,284.62 130.00,282.40 C127.95,280.18 126.18,279.00 123.80,277.30 C121.42,275.60 118.25,273.73 115.70,272.20 C113.15,270.67 111.07,268.87 108.50,268.10 C105.93,267.33 103.20,267.52 100.30,267.60 C97.40,267.68 93.58,268.33 91.10,268.60 C88.62,268.87 88.22,268.77 85.40,269.20 C82.58,269.63 78.28,270.35 74.20,271.20 C70.12,272.05 65.68,272.43 60.90,274.30 C56.12,276.17 49.65,279.62 45.50,282.40 C41.35,285.18 38.55,288.08 36.00,291.00 C33.45,293.92 32.02,297.57 30.20,299.90 C28.38,302.23 26.12,302.45 25.10,305.00 Z" fill="none" stroke="#2A3F50" stroke-width="0.75" stroke-opacity="0.9"/>
<clipPath id="b2"><path d="M193.10,312.00 C194.82,309.10 198.08,301.20 200.30,297.80 C202.52,294.40 204.37,294.17 206.40,291.60 C208.43,289.03 210.45,284.95 212.50,282.40 C214.55,279.85 216.32,278.17 218.70,276.30 C221.08,274.43 224.60,272.38 226.80,271.20 C229.00,270.02 229.85,269.88 231.90,269.20 C233.95,268.52 236.72,267.28 239.10,267.10 C241.48,266.92 243.82,268.02 246.20,268.10 C248.58,268.18 251.40,267.17 253.40,267.60 C255.40,268.03 256.05,270.02 258.20,270.70 C260.35,271.38 263.23,270.93 266.30,271.70 C269.37,272.47 273.18,273.93 276.60,275.30 C280.02,276.67 283.40,278.03 286.80,279.90 C290.20,281.77 293.93,284.20 297.00,286.50 C300.07,288.80 302.82,291.13 305.20,293.70 C307.58,296.27 309.60,298.85 311.30,301.90 C313.00,304.95 314.47,308.65 315.40,312.00 C316.33,315.35 316.65,319.42 316.90,322.00 C317.15,324.58 317.32,324.88 316.90,327.50 C316.48,330.12 315.67,335.15 314.40,337.70 C313.13,340.25 311.52,341.52 309.30,342.80 C307.08,344.08 304.17,344.80 301.10,345.40 C298.03,346.00 293.80,346.32 290.90,346.40 C288.00,346.48 285.23,345.65 283.70,345.90 C282.17,346.15 282.20,346.72 281.70,347.90 C281.20,349.08 281.55,351.47 280.70,353.00 C279.85,354.53 278.32,356.07 276.60,357.10 C274.88,358.13 272.62,358.77 270.40,359.20 C268.18,359.63 265.68,359.88 263.30,359.70 C260.92,359.52 258.08,359.22 256.10,358.10 C254.12,356.98 253.90,354.70 251.40,353.00 C248.90,351.30 244.52,349.43 241.10,347.90 C237.68,346.37 234.63,345.17 230.90,343.80 C227.17,342.43 222.78,340.72 218.70,339.70 C214.62,338.68 210.15,337.87 206.40,337.70 C202.65,337.53 198.58,339.03 196.20,338.70 C193.82,338.37 193.22,337.92 192.10,335.70 C190.98,333.48 189.85,328.82 189.50,325.40 C189.15,321.98 189.40,317.43 190.00,315.20 C190.60,312.97 191.38,314.90 193.10,312.00 Z"/></clipPath>
<g clip-path="url(#b2)">
<path d="M193.10,312.00 C194.82,309.10 198.08,301.20 200.30,297.80 C202.52,294.40 204.37,294.17 206.40,291.60 C208.43,289.03 210.45,284.95 212.50,282.40 C214.55,279.85 216.32,278.17 218.70,276.30 C221.08,274.43 224.60,272.38 226.80,271.20 C229.00,270.02 229.85,269.88 231.90,269.20 C233.95,268.52 236.72,267.28 239.10,267.10 C241.48,266.92 243.82,268.02 246.20,268.10 C248.58,268.18 251.40,267.17 253.40,267.60 C255.40,268.03 256.05,270.02 258.20,270.70 C260.35,271.38 263.23,270.93 266.30,271.70 C269.37,272.47 273.18,273.93 276.60,275.30 C280.02,276.67 283.40,278.03 286.80,279.90 C290.20,281.77 293.93,284.20 297.00,286.50 C300.07,288.80 302.82,291.13 305.20,293.70 C307.58,296.27 309.60,298.85 311.30,301.90 C313.00,304.95 314.47,308.65 315.40,312.00 C316.33,315.35 316.65,319.42 316.90,322.00 C317.15,324.58 317.32,324.88 316.90,327.50 C316.48,330.12 315.67,335.15 314.40,337.70 C313.13,340.25 311.52,341.52 309.30,342.80 C307.08,344.08 304.17,344.80 301.10,345.40 C298.03,346.00 293.80,346.32 290.90,346.40 C288.00,346.48 285.23,345.65 283.70,345.90 C282.17,346.15 282.20,346.72 281.70,347.90 C281.20,349.08 281.55,351.47 280.70,353.00 C279.85,354.53 278.32,356.07 276.60,357.10 C274.88,358.13 272.62,358.77 270.40,359.20 C268.18,359.63 265.68,359.88 263.30,359.70 C260.92,359.52 258.08,359.22 256.10,358.10 C254.12,356.98 253.90,354.70 251.40,353.00 C248.90,351.30 244.52,349.43 241.10,347.90 C237.68,346.37 234.63,345.17 230.90,343.80 C227.17,342.43 222.78,340.72 218.70,339.70 C214.62,338.68 210.15,337.87 206.40,337.70 C202.65,337.53 198.58,339.03 196.20,338.70 C193.82,338.37 193.22,337.92 192.10,335.70 C190.98,333.48 189.85,328.82 189.50,325.40 C189.15,321.98 189.40,317.43 190.00,315.20 C190.60,312.97 191.38,314.90 193.10,312.00 Z" fill="#B3DDF3"/>
<g filter="url(#soft)">
<path d="M236.00,268.00 C238.73,265.10 249.70,267.15 253.40,267.60 C257.10,268.05 256.05,270.02 258.20,270.70 C260.35,271.38 263.23,270.93 266.30,271.70 C269.37,272.47 273.18,273.93 276.60,275.30 C280.02,276.67 283.40,278.03 286.80,279.90 C290.20,281.77 293.93,284.20 297.00,286.50 C300.07,288.80 302.82,291.13 305.20,293.70 C307.58,296.27 309.60,298.85 311.30,301.90 C313.00,304.95 314.47,308.65 315.40,312.00 C316.33,315.35 316.65,319.33 316.90,322.00 C317.15,324.67 318.72,327.17 316.90,328.00 C315.08,328.83 309.15,329.00 306.00,327.00 C302.85,325.00 300.50,319.50 298.00,316.00 C295.50,312.50 293.83,308.83 291.00,306.00 C288.17,303.17 284.43,300.83 281.00,299.00 C277.57,297.17 273.90,296.00 270.40,295.00 C266.90,294.00 263.40,293.33 260.00,293.00 C256.60,292.67 253.00,293.00 250.00,293.00 C247.00,293.00 244.17,294.33 242.00,293.00 C239.83,291.67 238.00,289.17 237.00,285.00 C236.00,280.83 233.27,270.90 236.00,268.00 Z" fill="#B3DDF3"/>
<path d="M234.00,270.00 C235.50,267.00 242.83,268.17 246.00,268.00 C249.17,267.83 251.33,267.33 253.00,269.00 C254.67,270.67 256.17,274.50 256.00,278.00 C255.83,281.50 254.33,287.50 252.00,290.00 C249.67,292.50 244.50,293.67 242.00,293.00 C239.50,292.33 238.33,289.83 237.00,286.00 C235.67,282.17 232.50,273.00 234.00,270.00 Z" fill="#CBE8F6"/>
<path d="M191.00,318.00 C191.33,315.00 193.33,311.33 195.00,308.00 C196.67,304.67 199.00,300.67 201.00,298.00 C203.00,295.33 205.33,291.67 207.00,292.00 C208.67,292.33 209.83,296.67 211.00,300.00 C212.17,303.33 213.17,308.33 214.00,312.00 C214.83,315.67 216.67,319.67 216.00,322.00 C215.33,324.33 212.67,325.33 210.00,326.00 C207.33,326.67 202.83,326.00 200.00,326.00 C197.17,326.00 194.50,327.33 193.00,326.00 C191.50,324.67 190.67,321.00 191.00,318.00 Z" fill="#A9D6F0"/>
<path d="M208.40,290.60 C209.08,287.20 212.38,282.95 214.60,280.40 C216.82,277.85 219.67,276.83 221.70,275.30 C223.73,273.77 224.92,272.22 226.80,271.20 C228.68,270.18 231.72,268.18 233.00,269.20 C234.28,270.22 234.00,274.25 234.50,277.30 C235.00,280.35 235.23,284.43 236.00,287.50 C236.77,290.57 238.93,293.28 239.10,295.70 C239.27,298.12 237.85,299.62 237.00,302.00 C236.15,304.38 234.83,307.33 234.00,310.00 C233.17,312.67 233.33,316.00 232.00,318.00 C230.67,320.00 228.17,321.67 226.00,322.00 C223.83,322.33 220.90,321.67 219.00,320.00 C217.10,318.33 216.02,315.20 214.60,312.00 C213.18,308.80 211.53,304.37 210.50,300.80 C209.47,297.23 207.72,294.00 208.40,290.60 Z" fill="#2F78BE"/>
<path d="M233.00,300.00 C235.00,297.33 238.42,295.33 240.00,296.00 C241.58,296.67 242.67,301.00 242.50,304.00 C242.33,307.00 240.42,311.00 239.00,314.00 C237.58,317.00 236.17,320.00 234.00,322.00 C231.83,324.00 228.00,326.33 226.00,326.00 C224.00,325.67 221.67,322.33 222.00,320.00 C222.33,317.67 226.17,315.33 228.00,312.00 C229.83,308.67 231.00,302.67 233.00,300.00 Z" fill="#59A2D3"/>
<path d="M193.00,327.00 C194.65,324.72 198.83,323.17 202.00,322.00 C205.17,320.83 208.67,320.00 212.00,320.00 C215.33,320.00 219.00,321.00 222.00,322.00 C225.00,323.00 227.33,324.33 230.00,326.00 C232.67,327.67 235.67,330.00 238.00,332.00 C240.33,334.00 243.67,336.00 244.00,338.00 C244.33,340.00 242.33,343.33 240.00,344.00 C237.67,344.67 233.67,342.75 230.00,342.00 C226.33,341.25 221.93,340.22 218.00,339.50 C214.07,338.78 210.03,337.83 206.40,337.70 C202.77,337.57 198.58,339.03 196.20,338.70 C193.82,338.37 192.63,337.65 192.10,335.70 C191.57,333.75 191.35,329.28 193.00,327.00 Z" fill="#E8EEF2"/>
<path d="M240.00,300.00 C242.33,296.67 246.33,296.67 250.00,296.00 C253.67,295.33 258.00,295.67 262.00,296.00 C266.00,296.33 270.33,297.00 274.00,298.00 C277.67,299.00 281.00,300.33 284.00,302.00 C287.00,303.67 289.67,305.67 292.00,308.00 C294.33,310.33 296.67,313.00 298.00,316.00 C299.33,319.00 301.00,322.67 300.00,326.00 C299.00,329.33 294.83,333.00 292.00,336.00 C289.17,339.00 286.33,342.00 283.00,344.00 C279.67,346.00 275.50,347.00 272.00,348.00 C268.50,349.00 265.67,350.00 262.00,350.00 C258.33,350.00 253.33,349.67 250.00,348.00 C246.67,346.33 244.33,343.00 242.00,340.00 C239.67,337.00 237.00,334.00 236.00,330.00 C235.00,326.00 235.33,321.00 236.00,316.00 C236.67,311.00 237.67,303.33 240.00,300.00 Z" fill="#F7F8F9"/>
<path d="M288.00,306.00 C288.50,305.50 292.67,309.33 294.00,312.00 C295.33,314.67 296.33,319.00 296.00,322.00 C295.67,325.00 294.00,328.17 292.00,330.00 C290.00,331.83 285.67,333.17 284.00,333.00 C282.33,332.83 281.00,330.50 282.00,329.00 C283.00,327.50 288.50,326.33 290.00,324.00 C291.50,321.67 291.33,318.00 291.00,315.00 C290.67,312.00 287.50,306.50 288.00,306.00 Z" fill="#B3DDF3"/>
<path d="M282.00,334.00 C283.05,331.18 287.00,330.17 290.00,329.00 C293.00,327.83 296.67,327.42 300.00,327.00 C303.33,326.58 307.18,326.42 310.00,326.50 C312.82,326.58 316.17,325.63 316.90,327.50 C317.63,329.37 315.67,335.15 314.40,337.70 C313.13,340.25 311.52,341.52 309.30,342.80 C307.08,344.08 304.17,344.80 301.10,345.40 C298.03,346.00 293.80,346.32 290.90,346.40 C288.00,346.48 285.18,347.97 283.70,345.90 C282.22,343.83 280.95,336.82 282.00,334.00 Z" fill="#FCEBE2"/>
<path d="M236.00,340.00 C238.33,339.83 242.33,341.67 246.00,343.00 C249.67,344.33 254.00,346.83 258.00,348.00 C262.00,349.17 266.33,350.17 270.00,350.00 C273.67,349.83 278.05,347.35 280.00,347.00 C281.95,346.65 281.58,346.90 281.70,347.90 C281.82,348.90 281.55,351.47 280.70,353.00 C279.85,354.53 278.32,356.07 276.60,357.10 C274.88,358.13 272.62,358.77 270.40,359.20 C268.18,359.63 265.68,359.88 263.30,359.70 C260.92,359.52 258.08,359.22 256.10,358.10 C254.12,356.98 253.90,354.70 251.40,353.00 C248.90,351.30 244.33,349.40 241.10,347.90 C237.87,346.40 232.85,345.32 232.00,344.00 C231.15,342.68 233.67,340.17 236.00,340.00 Z" fill="#DCEAF3"/>
<path d="M236.00,346.00 C238.00,346.33 243.00,348.00 246.00,349.00 C249.00,350.00 251.67,350.83 254.00,352.00 C256.33,353.17 259.33,354.92 260.00,356.00 C260.67,357.08 259.33,358.67 258.00,358.50 C256.67,358.33 254.67,356.42 252.00,355.00 C249.33,353.58 245.00,351.33 242.00,350.00 C239.00,348.67 235.00,347.67 234.00,347.00 C233.00,346.33 234.00,345.67 236.00,346.00 Z" fill="#3F89C4"/>
<path d="M268.00,350.00 C269.67,348.50 273.67,347.67 276.00,347.00 C278.33,346.33 281.00,345.17 282.00,346.00 C283.00,346.83 282.83,350.17 282.00,352.00 C281.17,353.83 279.00,355.83 277.00,357.00 C275.00,358.17 271.83,359.17 270.00,359.00 C268.17,358.83 266.33,357.50 266.00,356.00 C265.67,354.50 266.33,351.50 268.00,350.00 Z" fill="#F3DED2"/>
</g>
<g filter="url(#blur2)">
<path d="M243.00,322.00 C243.33,318.67 244.67,314.33 246.00,312.00 C247.33,309.67 250.17,307.00 251.00,308.00 C251.83,309.00 250.67,314.33 251.00,318.00 C251.33,321.67 251.67,326.33 253.00,330.00 C254.33,333.67 257.17,337.33 259.00,340.00 C260.83,342.67 264.50,344.83 264.00,346.00 C263.50,347.17 258.67,348.00 256.00,347.00 C253.33,346.00 250.00,342.50 248.00,340.00 C246.00,337.50 244.83,335.00 244.00,332.00 C243.17,329.00 242.67,325.33 243.00,322.00 Z" fill="#8A9098" fill-opacity="0.3"/>
<path d="M260.00,334.00 C261.00,332.17 265.67,330.67 268.00,331.00 C270.33,331.33 273.67,334.17 274.00,336.00 C274.33,337.83 272.00,341.00 270.00,342.00 C268.00,343.00 263.67,343.33 262.00,342.00 C260.33,340.67 259.00,335.83 260.00,334.00 Z" fill="#A0A6AC" fill-opacity="0.18"/>
<path d="M198.00,330.00 C198.33,329.00 206.00,327.00 210.00,327.00 C214.00,327.00 218.33,328.50 222.00,330.00 C225.67,331.50 232.00,335.00 232.00,336.00 C232.00,337.00 226.00,336.50 222.00,336.00 C218.00,335.50 212.00,334.00 208.00,333.00 C204.00,332.00 197.67,331.00 198.00,330.00 Z" fill="#8E9AA5" fill-opacity="0.4"/>
<path d="M256.00,302.00 C256.67,301.33 265.33,300.50 270.00,301.00 C274.67,301.50 280.33,303.33 284.00,305.00 C287.67,306.67 292.67,310.50 292.00,311.00 C291.33,311.50 284.33,309.00 280.00,308.00 C275.67,307.00 270.00,306.00 266.00,305.00 C262.00,304.00 255.33,302.67 256.00,302.00 Z" fill="#A0A6AC" fill-opacity="0.2"/>
</g>
<g filter="url(#blur1)">
<path d="M262.00,282.00 C264.33,282.17 271.33,281.67 276.00,283.00 C280.67,284.33 285.67,286.83 290.00,290.00 C294.33,293.17 300.00,300.00 302.00,302.00" fill="none" stroke="#FFFFFF" stroke-width="2.0" stroke-opacity="0.35" stroke-linecap="round" stroke-linejoin="round"/>
<path d="M200.00,334.00 C202.00,333.50 208.00,331.00 212.00,331.00 C216.00,331.00 222.00,333.50 224.00,334.00" fill="none" stroke="#FFFFFF" stroke-width="1.4" stroke-opacity="0.35" stroke-linecap="round" stroke-linejoin="round"/>
</g>
<g filter="url(#blur1)">
<path d="M209.00,292.00 C209.83,293.67 212.50,298.67 214.00,302.00 C215.50,305.33 216.67,309.00 218.00,312.00 C219.33,315.00 221.33,318.67 222.00,320.00" fill="none" stroke="#1F4763" stroke-width="2.6" stroke-opacity="0.22" stroke-linecap="round" stroke-linejoin="round"/>
<path d="M227.00,272.00 C227.50,274.00 229.17,280.00 230.00,284.00 C230.83,288.00 231.67,294.00 232.00,296.00" fill="none" stroke="#1F4763" stroke-width="2.6" stroke-opacity="0.22" stroke-linecap="round" stroke-linejoin="round"/>
<path d="M196.00,322.00 C197.33,321.33 201.33,318.33 204.00,318.00 C206.67,317.67 210.67,319.67 212.00,320.00" fill="none" stroke="#1F4763" stroke-width="2.6" stroke-opacity="0.22" stroke-linecap="round" stroke-linejoin="round"/>
<path d="M244.00,296.00 C246.00,295.58 251.67,293.83 256.00,293.50 C260.33,293.17 265.67,293.25 270.00,294.00 C274.33,294.75 278.33,296.33 282.00,298.00 C285.67,299.67 289.00,301.67 292.00,304.00 C295.00,306.33 297.83,309.00 300.00,312.00 C302.17,315.00 304.17,320.33 305.00,322.00" fill="none" stroke="#1F4763" stroke-width="2.6" stroke-opacity="0.22" stroke-linecap="round" stroke-linejoin="round"/>
<path d="M196.00,332.00 C197.67,331.33 202.67,328.33 206.00,328.00 C209.33,327.67 212.67,328.83 216.00,330.00 C219.33,331.17 222.67,333.17 226.00,335.00 C229.33,336.83 234.33,340.00 236.00,341.00" fill="none" stroke="#1F4763" stroke-width="2.6" stroke-opacity="0.22" stroke-linecap="round" stroke-linejoin="round"/>
<path d="M236.00,326.00 C237.33,327.33 241.33,331.33 244.00,334.00 C246.67,336.67 249.00,339.83 252.00,342.00 C255.00,344.17 260.33,346.17 262.00,347.00" fill="none" stroke="#1F4763" stroke-width="2.6" stroke-opacity="0.22" stroke-linecap="round" stroke-linejoin="round"/>
<path d="M259.00,271.00 C259.17,272.50 260.17,276.83 260.00,280.00 C259.83,283.17 258.33,288.33 258.00,290.00" fill="none" stroke="#1F4763" stroke-width="2.6" stroke-opacity="0.22" stroke-linecap="round" stroke-linejoin="round"/>
</g>
<path d="M209.00,292.00 C209.83,293.67 212.50,298.67 214.00,302.00 C215.50,305.33 216.67,309.00 218.00,312.00 C219.33,315.00 221.33,318.67 222.00,320.00" fill="none" stroke="#27465E" stroke-width="0.6" stroke-opacity="0.7" stroke-linecap="round" stroke-linejoin="round"/>
<path d="M227.00,272.00 C227.50,274.00 229.17,280.00 230.00,284.00 C230.83,288.00 231.67,294.00 232.00,296.00" fill="none" stroke="#27465E" stroke-width="0.6" stroke-opacity="0.7" stroke-linecap="round" stroke-linejoin="round"/>
<path d="M196.00,322.00 C197.33,321.33 201.33,318.33 204.00,318.00 C206.67,317.67 210.67,319.67 212.00,320.00" fill="none" stroke="#27465E" stroke-width="0.6" stroke-opacity="0.7" stroke-linecap="round" stroke-linejoin="round"/>
<path d="M244.00,296.00 C246.00,295.58 251.67,293.83 256.00,293.50 C260.33,293.17 265.67,293.25 270.00,294.00 C274.33,294.75 278.33,296.33 282.00,298.00 C285.67,299.67 289.00,301.67 292.00,304.00 C295.00,306.33 297.83,309.00 300.00,312.00 C302.17,315.00 304.17,320.33 305.00,322.00" fill="none" stroke="#27465E" stroke-width="0.6" stroke-opacity="0.7" stroke-linecap="round" stroke-linejoin="round"/>
<path d="M196.00,332.00 C197.67,331.33 202.67,328.33 206.00,328.00 C209.33,327.67 212.67,328.83 216.00,330.00 C219.33,331.17 222.67,333.17 226.00,335.00 C229.33,336.83 234.33,340.00 236.00,341.00" fill="none" stroke="#27465E" stroke-width="0.6" stroke-opacity="0.7" stroke-linecap="round" stroke-linejoin="round"/>
<path d="M236.00,326.00 C237.33,327.33 241.33,331.33 244.00,334.00 C246.67,336.67 249.00,339.83 252.00,342.00 C255.00,344.17 260.33,346.17 262.00,347.00" fill="none" stroke="#505860" stroke-width="0.6" stroke-opacity="0.65" stroke-linecap="round" stroke-linejoin="round"/>
<path d="M259.00,271.00 C259.17,272.50 260.17,276.83 260.00,280.00 C259.83,283.17 258.33,288.33 258.00,290.00" fill="none" stroke="#27465E" stroke-width="0.6" stroke-opacity="0.7" stroke-linecap="round" stroke-linejoin="round"/>
<path d="M193.10,312.00 C194.82,309.10 198.08,301.20 200.30,297.80 C202.52,294.40 204.37,294.17 206.40,291.60 C208.43,289.03 210.45,284.95 212.50,282.40 C214.55,279.85 216.32,278.17 218.70,276.30 C221.08,274.43 224.60,272.38 226.80,271.20 C229.00,270.02 229.85,269.88 231.90,269.20 C233.95,268.52 236.72,267.28 239.10,267.10 C241.48,266.92 243.82,268.02 246.20,268.10 C248.58,268.18 251.40,267.17 253.40,267.60 C255.40,268.03 256.05,270.02 258.20,270.70 C260.35,271.38 263.23,270.93 266.30,271.70 C269.37,272.47 273.18,273.93 276.60,275.30 C280.02,276.67 283.40,278.03 286.80,279.90 C290.20,281.77 293.93,284.20 297.00,286.50 C300.07,288.80 302.82,291.13 305.20,293.70 C307.58,296.27 309.60,298.85 311.30,301.90 C313.00,304.95 314.47,308.65 315.40,312.00 C316.33,315.35 316.65,319.42 316.90,322.00 C317.15,324.58 317.32,324.88 316.90,327.50 C316.48,330.12 315.67,335.15 314.40,337.70 C313.13,340.25 311.52,341.52 309.30,342.80 C307.08,344.08 304.17,344.80 301.10,345.40 C298.03,346.00 293.80,346.32 290.90,346.40 C288.00,346.48 285.23,345.65 283.70,345.90 C282.17,346.15 282.20,346.72 281.70,347.90 C281.20,349.08 281.55,351.47 280.70,353.00 C279.85,354.53 278.32,356.07 276.60,357.10 C274.88,358.13 272.62,358.77 270.40,359.20 C268.18,359.63 265.68,359.88 263.30,359.70 C260.92,359.52 258.08,359.22 256.10,358.10 C254.12,356.98 253.90,354.70 251.40,353.00 C248.90,351.30 244.52,349.43 241.10,347.90 C237.68,346.37 234.63,345.17 230.90,343.80 C227.17,342.43 222.78,340.72 218.70,339.70 C214.62,338.68 210.15,337.87 206.40,337.70 C202.65,337.53 198.58,339.03 196.20,338.70 C193.82,338.37 193.22,337.92 192.10,335.70 C190.98,333.48 189.85,328.82 189.50,325.40 C189.15,321.98 189.40,317.43 190.00,315.20 C190.60,312.97 191.38,314.90 193.10,312.00 Z" fill="url(#shade)"/>
</g>
<path d="M193.10,312.00 C194.82,309.10 198.08,301.20 200.30,297.80 C202.52,294.40 204.37,294.17 206.40,291.60 C208.43,289.03 210.45,284.95 212.50,282.40 C214.55,279.85 216.32,278.17 218.70,276.30 C221.08,274.43 224.60,272.38 226.80,271.20 C229.00,270.02 229.85,269.88 231.90,269.20 C233.95,268.52 236.72,267.28 239.10,267.10 C241.48,266.92 243.82,268.02 246.20,268.10 C248.58,268.18 251.40,267.17 253.40,267.60 C255.40,268.03 256.05,270.02 258.20,270.70 C260.35,271.38 263.23,270.93 266.30,271.70 C269.37,272.47 273.18,273.93 276.60,275.30 C280.02,276.67 283.40,278.03 286.80,279.90 C290.20,281.77 293.93,284.20 297.00,286.50 C300.07,288.80 302.82,291.13 305.20,293.70 C307.58,296.27 309.60,298.85 311.30,301.90 C313.00,304.95 314.47,308.65 315.40,312.00 C316.33,315.35 316.65,319.42 316.90,322.00 C317.15,324.58 317.32,324.88 316.90,327.50 C316.48,330.12 315.67,335.15 314.40,337.70 C313.13,340.25 311.52,341.52 309.30,342.80 C307.08,344.08 304.17,344.80 301.10,345.40 C298.03,346.00 293.80,346.32 290.90,346.40 C288.00,346.48 285.23,345.65 283.70,345.90 C282.17,346.15 282.20,346.72 281.70,347.90 C281.20,349.08 281.55,351.47 280.70,353.00 C279.85,354.53 278.32,356.07 276.60,357.10 C274.88,358.13 272.62,358.77 270.40,359.20 C268.18,359.63 265.68,359.88 263.30,359.70 C260.92,359.52 258.08,359.22 256.10,358.10 C254.12,356.98 253.90,354.70 251.40,353.00 C248.90,351.30 244.52,349.43 241.10,347.90 C237.68,346.37 234.63,345.17 230.90,343.80 C227.17,342.43 222.78,340.72 218.70,339.70 C214.62,338.68 210.15,337.87 206.40,337.70 C202.65,337.53 198.58,339.03 196.20,338.70 C193.82,338.37 193.22,337.92 192.10,335.70 C190.98,333.48 189.85,328.82 189.50,325.40 C189.15,321.98 189.40,317.43 190.00,315.20 C190.60,312.97 191.38,314.90 193.10,312.00 Z" fill="none" stroke="#2A3F50" stroke-width="0.75" stroke-opacity="0.9"/>
<clipPath id="b3"><path d="M374.10,305.00 C374.95,302.95 375.67,304.95 377.20,302.90 C378.73,300.85 380.92,295.77 383.30,292.70 C385.68,289.63 388.60,286.88 391.50,284.50 C394.40,282.12 397.47,280.10 400.70,278.40 C403.93,276.70 407.50,275.33 410.90,274.30 C414.30,273.27 418.03,272.63 421.10,272.20 C424.17,271.77 426.92,272.03 429.30,271.70 C431.68,271.37 433.92,270.62 435.40,270.20 C436.88,269.78 436.55,269.63 438.20,269.20 C439.85,268.77 442.92,267.87 445.30,267.60 C447.68,267.33 450.45,267.17 452.50,267.60 C454.55,268.03 455.90,268.92 457.60,270.20 C459.30,271.48 461.17,274.28 462.70,275.30 C464.23,276.32 465.10,275.28 466.80,276.30 C468.50,277.32 471.03,279.35 472.90,281.40 C474.77,283.45 475.95,286.38 478.00,288.60 C480.05,290.82 483.32,292.32 485.20,294.70 C487.08,297.08 488.12,300.35 489.30,302.90 C490.48,305.45 491.12,308.28 492.30,310.00 C493.48,311.72 495.37,310.63 496.40,313.20 C497.43,315.77 498.67,321.65 498.50,325.40 C498.33,329.15 497.28,333.65 495.40,335.70 C493.52,337.75 489.93,337.37 487.20,337.70 C484.47,338.03 481.72,337.18 479.00,337.70 C476.28,338.22 473.95,339.78 470.90,340.80 C467.85,341.82 464.12,342.78 460.70,343.80 C457.28,344.82 453.82,345.87 450.40,346.90 C446.98,347.93 443.03,348.13 440.20,350.00 C437.37,351.87 435.90,356.40 433.40,358.10 C430.90,359.80 428.10,360.20 425.20,360.20 C422.30,360.20 418.72,358.95 416.00,358.10 C413.28,357.25 410.68,356.28 408.90,355.10 C407.12,353.92 405.82,352.45 405.30,351.00 C404.78,349.55 406.90,347.08 405.80,346.40 C404.70,345.72 401.60,346.98 398.70,346.90 C395.80,346.82 391.65,346.58 388.40,345.90 C385.15,345.22 381.58,344.50 379.20,342.80 C376.82,341.10 375.37,338.60 374.10,335.70 C372.83,332.80 371.93,328.82 371.60,325.40 C371.27,321.98 371.68,318.60 372.10,315.20 C372.52,311.80 373.25,307.05 374.10,305.00 Z"/></clipPath>
<g clip-path="url(#b3)">
<path d="M374.10,305.00 C374.95,302.95 375.67,304.95 377.20,302.90 C378.73,300.85 380.92,295.77 383.30,292.70 C385.68,289.63 388.60,286.88 391.50,284.50 C394.40,282.12 397.47,280.10 400.70,278.40 C403.93,276.70 407.50,275.33 410.90,274.30 C414.30,273.27 418.03,272.63 421.10,272.20 C424.17,271.77 426.92,272.03 429.30,271.70 C431.68,271.37 433.92,270.62 435.40,270.20 C436.88,269.78 436.55,269.63 438.20,269.20 C439.85,268.77 442.92,267.87 445.30,267.60 C447.68,267.33 450.45,267.17 452.50,267.60 C454.55,268.03 455.90,268.92 457.60,270.20 C459.30,271.48 461.17,274.28 462.70,275.30 C464.23,276.32 465.10,275.28 466.80,276.30 C468.50,277.32 471.03,279.35 472.90,281.40 C474.77,283.45 475.95,286.38 478.00,288.60 C480.05,290.82 483.32,292.32 485.20,294.70 C487.08,297.08 488.12,300.35 489.30,302.90 C490.48,305.45 491.12,308.28 492.30,310.00 C493.48,311.72 495.37,310.63 496.40,313.20 C497.43,315.77 498.67,321.65 498.50,325.40 C498.33,329.15 497.28,333.65 495.40,335.70 C493.52,337.75 489.93,337.37 487.20,337.70 C484.47,338.03 481.72,337.18 479.00,337.70 C476.28,338.22 473.95,339.78 470.90,340.80 C467.85,341.82 464.12,342.78 460.70,343.80 C457.28,344.82 453.82,345.87 450.40,346.90 C446.98,347.93 443.03,348.13 440.20,350.00 C437.37,351.87 435.90,356.40 433.40,358.10 C430.90,359.80 428.10,360.20 425.20,360.20 C422.30,360.20 418.72,358.95 416.00,358.10 C413.28,357.25 410.68,356.28 408.90,355.10 C407.12,353.92 405.82,352.45 405.30,351.00 C404.78,349.55 406.90,347.08 405.80,346.40 C404.70,345.72 401.60,346.98 398.70,346.90 C395.80,346.82 391.65,346.58 388.40,345.90 C385.15,345.22 381.58,344.50 379.20,342.80 C376.82,341.10 375.37,338.60 374.10,335.70 C372.83,332.80 371.93,328.82 371.60,325.40 C371.27,321.98 371.68,318.60 372.10,315.20 C372.52,311.80 373.25,307.05 374.10,305.00 Z" fill="#B9DFF4"/>
<g filter="url(#soft)">
<path d="M428.00,272.00 C429.70,269.53 435.32,269.93 438.20,269.20 C441.08,268.47 442.92,267.87 445.30,267.60 C447.68,267.33 451.22,266.20 452.50,267.60 C453.78,269.00 453.08,272.93 453.00,276.00 C452.92,279.07 452.50,283.33 452.00,286.00 C451.50,288.67 452.00,290.92 450.00,292.00 C448.00,293.08 443.33,292.42 440.00,292.50 C436.67,292.58 432.00,293.92 430.00,292.50 C428.00,291.08 428.33,287.42 428.00,284.00 C427.67,280.58 426.30,274.47 428.00,272.00 Z" fill="#3E8FCB"/>
<path d="M452.50,267.60 C453.27,265.97 455.90,268.92 457.60,270.20 C459.30,271.48 461.17,274.28 462.70,275.30 C464.23,276.32 465.10,275.28 466.80,276.30 C468.50,277.32 471.03,279.35 472.90,281.40 C474.77,283.45 476.65,286.17 478.00,288.60 C479.35,291.03 481.33,293.43 481.00,296.00 C480.67,298.57 477.83,301.00 476.00,304.00 C474.17,307.00 471.67,311.00 470.00,314.00 C468.33,317.00 467.33,321.33 466.00,322.00 C464.67,322.67 462.67,320.33 462.00,318.00 C461.33,315.67 462.83,311.33 462.00,308.00 C461.17,304.67 458.83,300.67 457.00,298.00 C455.17,295.33 451.67,295.00 451.00,292.00 C450.33,289.00 452.75,284.07 453.00,280.00 C453.25,275.93 451.73,269.23 452.50,267.60 Z" fill="#3D8BC8"/>
<path d="M478.00,288.60 C478.87,288.05 483.32,292.32 485.20,294.70 C487.08,297.08 488.12,300.35 489.30,302.90 C490.48,305.45 491.12,308.28 492.30,310.00 C493.48,311.72 495.37,310.63 496.40,313.20 C497.43,315.77 498.67,321.65 498.50,325.40 C498.33,329.15 496.82,334.43 495.40,335.70 C493.98,336.97 491.57,334.95 490.00,333.00 C488.43,331.05 488.00,326.50 486.00,324.00 C484.00,321.50 480.67,319.33 478.00,318.00 C475.33,316.67 470.67,318.00 470.00,316.00 C469.33,314.00 472.33,309.00 474.00,306.00 C475.67,303.00 479.33,300.90 480.00,298.00 C480.67,295.10 477.13,289.15 478.00,288.60 Z" fill="#B9DFF4"/>
<path d="M468.00,316.00 C469.00,315.17 473.00,314.33 476.00,315.00 C479.00,315.67 483.33,317.83 486.00,320.00 C488.67,322.17 491.67,326.33 492.00,328.00 C492.33,329.67 490.00,331.00 488.00,330.00 C486.00,329.00 483.00,323.67 480.00,322.00 C477.00,320.33 472.00,321.00 470.00,320.00 C468.00,319.00 467.00,316.83 468.00,316.00 Z" fill="#78B6DD"/>
<path d="M455.00,325.00 C456.00,322.67 459.17,321.00 462.00,320.00 C464.83,319.00 468.67,318.50 472.00,319.00 C475.33,319.50 479.00,321.17 482.00,323.00 C485.00,324.83 488.17,327.83 490.00,330.00 C491.83,332.17 493.50,334.72 493.00,336.00 C492.50,337.28 489.33,337.42 487.00,337.70 C484.67,337.98 481.68,337.18 479.00,337.70 C476.32,338.22 473.73,340.25 470.90,340.80 C468.07,341.35 464.48,342.13 462.00,341.00 C459.52,339.87 457.17,336.67 456.00,334.00 C454.83,331.33 454.00,327.33 455.00,325.00 Z" fill="#EDF0F2"/>
<path d="M392.00,318.00 C392.17,314.33 393.33,309.33 395.00,306.00 C396.67,302.67 398.83,300.08 402.00,298.00 C405.17,295.92 409.33,294.42 414.00,293.50 C418.67,292.58 425.33,292.58 430.00,292.50 C434.67,292.42 439.67,292.25 442.00,293.00 C444.33,293.75 445.67,296.42 444.00,297.00 C442.33,297.58 436.33,296.42 432.00,296.50 C427.67,296.58 422.00,296.75 418.00,297.50 C414.00,298.25 411.00,299.25 408.00,301.00 C405.00,302.75 401.83,305.17 400.00,308.00 C398.17,310.83 397.17,314.33 397.00,318.00 C396.83,321.67 399.50,328.33 399.00,330.00 C398.50,331.67 395.17,330.00 394.00,328.00 C392.83,326.00 391.83,321.67 392.00,318.00 Z" fill="#A6D6F0"/>
<path d="M397.00,320.00 C397.33,316.33 398.83,311.33 401.00,308.00 C403.17,304.67 406.50,301.83 410.00,300.00 C413.50,298.17 417.67,297.50 422.00,297.00 C426.33,296.50 432.00,296.67 436.00,297.00 C440.00,297.33 443.33,297.50 446.00,299.00 C448.67,300.50 450.67,302.83 452.00,306.00 C453.33,309.17 454.33,314.33 454.00,318.00 C453.67,321.67 452.00,325.00 450.00,328.00 C448.00,331.00 445.33,333.67 442.00,336.00 C438.67,338.33 434.00,340.83 430.00,342.00 C426.00,343.17 422.00,343.67 418.00,343.00 C414.00,342.33 409.17,340.17 406.00,338.00 C402.83,335.83 400.50,333.00 399.00,330.00 C397.50,327.00 396.67,323.67 397.00,320.00 Z" fill="#F8F8F8"/>
<path d="M445.00,300.00 C445.33,298.67 448.17,296.83 450.00,297.00 C451.83,297.17 454.33,298.83 456.00,301.00 C457.67,303.17 459.33,307.17 460.00,310.00 C460.67,312.83 460.67,315.67 460.00,318.00 C459.33,320.33 457.33,323.33 456.00,324.00 C454.67,324.67 452.83,324.00 452.00,322.00 C451.17,320.00 451.67,314.83 451.00,312.00 C450.33,309.17 449.00,307.00 448.00,305.00 C447.00,303.00 444.67,301.33 445.00,300.00 Z" fill="#FAD9C6"/>
<path d="M371.60,324.40 C372.25,322.70 375.20,324.98 378.00,325.50 C380.80,326.02 385.30,326.48 388.40,327.50 C391.50,328.52 394.00,330.52 396.60,331.60 C399.20,332.68 401.27,333.10 404.00,334.00 C406.73,334.90 410.67,335.83 413.00,337.00 C415.33,338.17 417.83,339.50 418.00,341.00 C418.17,342.50 416.03,345.10 414.00,346.00 C411.97,346.90 408.35,346.25 405.80,346.40 C403.25,346.55 401.60,346.98 398.70,346.90 C395.80,346.82 391.65,346.58 388.40,345.90 C385.15,345.22 381.58,344.50 379.20,342.80 C376.82,341.10 375.37,338.77 374.10,335.70 C372.83,332.63 370.95,326.10 371.60,324.40 Z" fill="#FCE7DB"/>
<path d="M406.00,346.00 C407.78,344.50 412.00,343.00 416.00,342.00 C420.00,341.00 425.17,341.00 430.00,340.00 C434.83,339.00 440.00,337.17 445.00,336.00 C450.00,334.83 455.00,333.17 460.00,333.00 C465.00,332.83 470.50,334.22 475.00,335.00 C479.50,335.78 486.33,337.25 487.00,337.70 C487.67,338.15 481.68,337.18 479.00,337.70 C476.32,338.22 473.95,339.78 470.90,340.80 C467.85,341.82 464.12,342.78 460.70,343.80 C457.28,344.82 453.82,345.87 450.40,346.90 C446.98,347.93 443.03,348.13 440.20,350.00 C437.37,351.87 435.90,356.40 433.40,358.10 C430.90,359.80 428.10,360.20 425.20,360.20 C422.30,360.20 418.72,358.95 416.00,358.10 C413.28,357.25 410.68,356.28 408.90,355.10 C407.12,353.92 405.78,352.52 405.30,351.00 C404.82,349.48 404.22,347.50 406.00,346.00 Z" fill="#86BDE0"/>
<path d="M410.00,348.00 C411.33,346.33 416.33,344.83 420.00,344.00 C423.67,343.17 429.33,342.33 432.00,343.00 C434.67,343.67 436.33,346.17 436.00,348.00 C435.67,349.83 432.67,352.67 430.00,354.00 C427.33,355.33 423.00,356.00 420.00,356.00 C417.00,356.00 413.67,355.33 412.00,354.00 C410.33,352.67 408.67,349.67 410.00,348.00 Z" fill="#F4E6DE"/>
<path d="M449.40,327.50 C451.15,327.27 453.90,330.52 453.50,332.60 C453.10,334.68 448.70,337.78 447.00,340.00 C445.30,342.22 445.12,344.58 443.30,345.90 C441.48,347.22 437.12,348.58 436.10,347.90 C435.08,347.22 436.05,344.12 437.20,341.80 C438.35,339.48 440.97,336.38 443.00,334.00 C445.03,331.62 447.65,327.73 449.40,327.50 Z" fill="#1D5CA5"/>
</g>
<g filter="url(#blur2)">
<path d="M410.00,334.00 C411.33,332.00 415.33,329.33 418.00,328.00 C420.67,326.67 425.00,325.00 426.00,326.00 C427.00,327.00 423.33,331.67 424.00,334.00 C424.67,336.33 431.00,338.67 430.00,340.00 C429.00,341.33 421.33,342.00 418.00,342.00 C414.67,342.00 411.33,341.33 410.00,340.00 C408.67,338.67 408.67,336.00 410.00,334.00 Z" fill="#8C9299" fill-opacity="0.3"/>
<path d="M432.00,330.00 C432.33,328.00 437.33,327.33 440.00,326.00 C442.67,324.67 447.00,321.00 448.00,322.00 C449.00,323.00 447.67,329.33 446.00,332.00 C444.33,334.67 440.33,338.33 438.00,338.00 C435.67,337.67 431.67,332.00 432.00,330.00 Z" fill="#8C9299" fill-opacity="0.35"/>
<path d="M460.00,330.00 C461.00,329.00 468.00,327.67 472.00,328.00 C476.00,328.33 483.00,331.00 484.00,332.00 C485.00,333.00 481.00,333.67 478.00,334.00 C475.00,334.33 469.00,334.67 466.00,334.00 C463.00,333.33 459.00,331.00 460.00,330.00 Z" fill="#9AA0A6" fill-opacity="0.45"/>
</g>
<g filter="url(#blur1)">
<path d="M386.00,300.00 C388.00,298.33 393.67,292.67 398.00,290.00 C402.33,287.33 407.33,285.33 412.00,284.00 C416.67,282.67 423.67,282.33 426.00,282.00" fill="none" stroke="#FFFFFF" stroke-width="2.2" stroke-opacity="0.35" stroke-linecap="round" stroke-linejoin="round"/>
<path d="M480.00,300.00 C481.33,301.67 486.00,306.67 488.00,310.00 C490.00,313.33 491.33,318.33 492.00,320.00" fill="none" stroke="#FFFFFF" stroke-width="1.4" stroke-opacity="0.35" stroke-linecap="round" stroke-linejoin="round"/>
</g>
<g filter="url(#blur1)">
<path d="M388.00,334.00 C389.67,334.33 394.67,335.00 398.00,336.00 C401.33,337.00 406.33,339.33 408.00,340.00" fill="none" stroke="#1F4763" stroke-width="2.6" stroke-opacity="0.22" stroke-linecap="round" stroke-linejoin="round"/>
<path d="M452.00,268.00 C452.00,270.00 452.17,276.00 452.00,280.00 C451.83,284.00 451.17,290.00 451.00,292.00" fill="none" stroke="#1F4763" stroke-width="2.6" stroke-opacity="0.22" stroke-linecap="round" stroke-linejoin="round"/>
<path d="M466.00,277.00 C466.17,279.17 466.67,286.17 467.00,290.00 C467.33,293.83 468.17,296.33 468.00,300.00 C467.83,303.67 466.33,310.00 466.00,312.00" fill="none" stroke="#1F4763" stroke-width="2.6" stroke-opacity="0.22" stroke-linecap="round" stroke-linejoin="round"/>
<path d="M478.00,289.00 C477.67,290.83 477.00,296.17 476.00,300.00 C475.00,303.83 472.67,310.00 472.00,312.00" fill="none" stroke="#1F4763" stroke-width="2.6" stroke-opacity="0.22" stroke-linecap="round" stroke-linejoin="round"/>
<path d="M398.00,302.00 C400.00,301.00 405.67,297.33 410.00,296.00 C414.33,294.67 419.00,294.33 424.00,294.00 C429.00,293.67 437.33,294.00 440.00,294.00" fill="none" stroke="#1F4763" stroke-width="2.6" stroke-opacity="0.22" stroke-linecap="round" stroke-linejoin="round"/>
<path d="M470.00,318.00 C471.67,318.33 476.67,318.00 480.00,320.00 C483.33,322.00 488.33,328.33 490.00,330.00" fill="none" stroke="#1F4763" stroke-width="2.6" stroke-opacity="0.22" stroke-linecap="round" stroke-linejoin="round"/>
<path d="M458.00,330.00 C459.67,329.33 464.33,326.00 468.00,326.00 C471.67,326.00 478.00,329.33 480.00,330.00" fill="none" stroke="#1F4763" stroke-width="2.6" stroke-opacity="0.22" stroke-linecap="round" stroke-linejoin="round"/>
<path d="M412.00,350.00 C413.67,349.50 418.00,347.67 422.00,347.00 C426.00,346.33 433.67,346.17 436.00,346.00" fill="none" stroke="#1F4763" stroke-width="2.6" stroke-opacity="0.22" stroke-linecap="round" stroke-linejoin="round"/>
</g>
<path d="M388.00,334.00 C389.67,334.33 394.67,335.00 398.00,336.00 C401.33,337.00 406.33,339.33 408.00,340.00" fill="none" stroke="#8A6E60" stroke-width="0.6" stroke-opacity="0.6" stroke-linecap="round" stroke-linejoin="round"/>
<path d="M452.00,268.00 C452.00,270.00 452.17,276.00 452.00,280.00 C451.83,284.00 451.17,290.00 451.00,292.00" fill="none" stroke="#27465E" stroke-width="0.6" stroke-opacity="0.7" stroke-linecap="round" stroke-linejoin="round"/>
<path d="M466.00,277.00 C466.17,279.17 466.67,286.17 467.00,290.00 C467.33,293.83 468.17,296.33 468.00,300.00 C467.83,303.67 466.33,310.00 466.00,312.00" fill="none" stroke="#27465E" stroke-width="0.6" stroke-opacity="0.7" stroke-linecap="round" stroke-linejoin="round"/>
<path d="M478.00,289.00 C477.67,290.83 477.00,296.17 476.00,300.00 C475.00,303.83 472.67,310.00 472.00,312.00" fill="none" stroke="#27465E" stroke-width="0.6" stroke-opacity="0.7" stroke-linecap="round" stroke-linejoin="round"/>
<path d="M398.00,302.00 C400.00,301.00 405.67,297.33 410.00,296.00 C414.33,294.67 419.00,294.33 424.00,294.00 C429.00,293.67 437.33,294.00 440.00,294.00" fill="none" stroke="#27465E" stroke-width="0.6" stroke-opacity="0.6" stroke-linecap="round" stroke-linejoin="round"/>
<path d="M470.00,318.00 C471.67,318.33 476.67,318.00 480.00,320.00 C483.33,322.00 488.33,328.33 490.00,330.00" fill="none" stroke="#27465E" stroke-width="0.6" stroke-opacity="0.7" stroke-linecap="round" stroke-linejoin="round"/>
<path d="M458.00,330.00 C459.67,329.33 464.33,326.00 468.00,326.00 C471.67,326.00 478.00,329.33 480.00,330.00" fill="none" stroke="#27465E" stroke-width="0.6" stroke-opacity="0.7" stroke-linecap="round" stroke-linejoin="round"/>
<path d="M412.00,350.00 C413.67,349.50 418.00,347.67 422.00,347.00 C426.00,346.33 433.67,346.17 436.00,346.00" fill="none" stroke="#27465E" stroke-width="0.6" stroke-opacity="0.7" stroke-linecap="round" stroke-linejoin="round"/>
<path d="M374.10,305.00 C374.95,302.95 375.67,304.95 377.20,302.90 C378.73,300.85 380.92,295.77 383.30,292.70 C385.68,289.63 388.60,286.88 391.50,284.50 C394.40,282.12 397.47,280.10 400.70,278.40 C403.93,276.70 407.50,275.33 410.90,274.30 C414.30,273.27 418.03,272.63 421.10,272.20 C424.17,271.77 426.92,272.03 429.30,271.70 C431.68,271.37 433.92,270.62 435.40,270.20 C436.88,269.78 436.55,269.63 438.20,269.20 C439.85,268.77 442.92,267.87 445.30,267.60 C447.68,267.33 450.45,267.17 452.50,267.60 C454.55,268.03 455.90,268.92 457.60,270.20 C459.30,271.48 461.17,274.28 462.70,275.30 C464.23,276.32 465.10,275.28 466.80,276.30 C468.50,277.32 471.03,279.35 472.90,281.40 C474.77,283.45 475.95,286.38 478.00,288.60 C480.05,290.82 483.32,292.32 485.20,294.70 C487.08,297.08 488.12,300.35 489.30,302.90 C490.48,305.45 491.12,308.28 492.30,310.00 C493.48,311.72 495.37,310.63 496.40,313.20 C497.43,315.77 498.67,321.65 498.50,325.40 C498.33,329.15 497.28,333.65 495.40,335.70 C493.52,337.75 489.93,337.37 487.20,337.70 C484.47,338.03 481.72,337.18 479.00,337.70 C476.28,338.22 473.95,339.78 470.90,340.80 C467.85,341.82 464.12,342.78 460.70,343.80 C457.28,344.82 453.82,345.87 450.40,346.90 C446.98,347.93 443.03,348.13 440.20,350.00 C437.37,351.87 435.90,356.40 433.40,358.10 C430.90,359.80 428.10,360.20 425.20,360.20 C422.30,360.20 418.72,358.95 416.00,358.10 C413.28,357.25 410.68,356.28 408.90,355.10 C407.12,353.92 405.82,352.45 405.30,351.00 C404.78,349.55 406.90,347.08 405.80,346.40 C404.70,345.72 401.60,346.98 398.70,346.90 C395.80,346.82 391.65,346.58 388.40,345.90 C385.15,345.22 381.58,344.50 379.20,342.80 C376.82,341.10 375.37,338.60 374.10,335.70 C372.83,332.80 371.93,328.82 371.60,325.40 C371.27,321.98 371.68,318.60 372.10,315.20 C372.52,311.80 373.25,307.05 374.10,305.00 Z" fill="url(#shade)"/>
</g>
<path d="M374.10,305.00 C374.95,302.95 375.67,304.95 377.20,302.90 C378.73,300.85 380.92,295.77 383.30,292.70 C385.68,289.63 388.60,286.88 391.50,284.50 C394.40,282.12 397.47,280.10 400.70,278.40 C403.93,276.70 407.50,275.33 410.90,274.30 C414.30,273.27 418.03,272.63 421.10,272.20 C424.17,271.77 426.92,272.03 429.30,271.70 C431.68,271.37 433.92,270.62 435.40,270.20 C436.88,269.78 436.55,269.63 438.20,269.20 C439.85,268.77 442.92,267.87 445.30,267.60 C447.68,267.33 450.45,267.17 452.50,267.60 C454.55,268.03 455.90,268.92 457.60,270.20 C459.30,271.48 461.17,274.28 462.70,275.30 C464.23,276.32 465.10,275.28 466.80,276.30 C468.50,277.32 471.03,279.35 472.90,281.40 C474.77,283.45 475.95,286.38 478.00,288.60 C480.05,290.82 483.32,292.32 485.20,294.70 C487.08,297.08 488.12,300.35 489.30,302.90 C490.48,305.45 491.12,308.28 492.30,310.00 C493.48,311.72 495.37,310.63 496.40,313.20 C497.43,315.77 498.67,321.65 498.50,325.40 C498.33,329.15 497.28,333.65 495.40,335.70 C493.52,337.75 489.93,337.37 487.20,337.70 C484.47,338.03 481.72,337.18 479.00,337.70 C476.28,338.22 473.95,339.78 470.90,340.80 C467.85,341.82 464.12,342.78 460.70,343.80 C457.28,344.82 453.82,345.87 450.40,346.90 C446.98,347.93 443.03,348.13 440.20,350.00 C437.37,351.87 435.90,356.40 433.40,358.10 C430.90,359.80 428.10,360.20 425.20,360.20 C422.30,360.20 418.72,358.95 416.00,358.10 C413.28,357.25 410.68,356.28 408.90,355.10 C407.12,353.92 405.82,352.45 405.30,351.00 C404.78,349.55 406.90,347.08 405.80,346.40 C404.70,345.72 401.60,346.98 398.70,346.90 C395.80,346.82 391.65,346.58 388.40,345.90 C385.15,345.22 381.58,344.50 379.20,342.80 C376.82,341.10 375.37,338.60 374.10,335.70 C372.83,332.80 371.93,328.82 371.60,325.40 C371.27,321.98 371.68,318.60 372.10,315.20 C372.52,311.80 373.25,307.05 374.10,305.00 Z" fill="none" stroke="#2A3F50" stroke-width="0.75" stroke-opacity="0.9"/>
<clipPath id="b4"><path d="M544.30,305.00 C544.63,303.12 544.28,300.85 545.30,298.80 C546.32,296.75 548.87,294.40 550.40,292.70 C551.93,291.00 553.30,290.32 554.50,288.60 C555.70,286.88 556.07,284.28 557.60,282.40 C559.13,280.52 561.48,278.83 563.70,277.30 C565.92,275.77 569.02,274.55 570.90,273.20 C572.78,271.85 573.30,270.22 575.00,269.20 C576.70,268.18 579.07,267.28 581.10,267.10 C583.13,266.92 585.15,267.93 587.20,268.10 C589.25,268.27 591.08,267.42 593.40,268.10 C595.72,268.78 598.28,271.52 601.10,272.20 C603.92,272.88 607.07,271.68 610.30,272.20 C613.53,272.72 617.08,273.93 620.50,275.30 C623.92,276.67 627.38,278.37 630.80,280.40 C634.22,282.43 637.93,285.12 641.00,287.50 C644.07,289.88 646.82,292.13 649.20,294.70 C651.58,297.27 653.60,300.02 655.30,302.90 C657.00,305.78 658.30,309.95 659.40,312.00 C660.50,314.05 661.57,312.62 661.90,315.20 C662.23,317.78 661.98,324.08 661.40,327.50 C660.82,330.92 659.93,333.15 658.40,335.70 C656.87,338.25 654.60,341.10 652.20,342.80 C649.80,344.50 646.72,345.30 644.00,345.90 C641.28,346.50 638.62,346.40 635.90,346.40 C633.18,346.40 629.23,345.30 627.70,345.90 C626.17,346.50 627.38,348.63 626.70,350.00 C626.02,351.37 625.48,352.75 623.60,354.10 C621.72,355.45 618.12,357.08 615.40,358.10 C612.68,359.12 610.02,359.77 607.30,360.20 C604.58,360.63 601.08,361.72 599.10,360.70 C597.12,359.68 597.55,355.88 595.40,354.10 C593.25,352.32 589.43,351.37 586.20,350.00 C582.97,348.63 579.40,347.43 576.00,345.90 C572.60,344.37 569.22,342.17 565.80,340.80 C562.38,339.43 559.42,338.38 555.50,337.70 C551.58,337.02 545.53,337.55 542.30,336.70 C539.07,335.85 537.47,334.48 536.10,332.60 C534.73,330.72 534.27,327.95 534.10,325.40 C533.93,322.85 534.42,319.50 535.10,317.30 C535.78,315.10 536.83,313.40 538.20,312.20 C539.57,311.00 542.28,311.30 543.30,310.10 C544.32,308.90 543.97,306.88 544.30,305.00 Z"/></clipPath>
<g clip-path="url(#b4)">
<path d="M544.30,305.00 C544.63,303.12 544.28,300.85 545.30,298.80 C546.32,296.75 548.87,294.40 550.40,292.70 C551.93,291.00 553.30,290.32 554.50,288.60 C555.70,286.88 556.07,284.28 557.60,282.40 C559.13,280.52 561.48,278.83 563.70,277.30 C565.92,275.77 569.02,274.55 570.90,273.20 C572.78,271.85 573.30,270.22 575.00,269.20 C576.70,268.18 579.07,267.28 581.10,267.10 C583.13,266.92 585.15,267.93 587.20,268.10 C589.25,268.27 591.08,267.42 593.40,268.10 C595.72,268.78 598.28,271.52 601.10,272.20 C603.92,272.88 607.07,271.68 610.30,272.20 C613.53,272.72 617.08,273.93 620.50,275.30 C623.92,276.67 627.38,278.37 630.80,280.40 C634.22,282.43 637.93,285.12 641.00,287.50 C644.07,289.88 646.82,292.13 649.20,294.70 C651.58,297.27 653.60,300.02 655.30,302.90 C657.00,305.78 658.30,309.95 659.40,312.00 C660.50,314.05 661.57,312.62 661.90,315.20 C662.23,317.78 661.98,324.08 661.40,327.50 C660.82,330.92 659.93,333.15 658.40,335.70 C656.87,338.25 654.60,341.10 652.20,342.80 C649.80,344.50 646.72,345.30 644.00,345.90 C641.28,346.50 638.62,346.40 635.90,346.40 C633.18,346.40 629.23,345.30 627.70,345.90 C626.17,346.50 627.38,348.63 626.70,350.00 C626.02,351.37 625.48,352.75 623.60,354.10 C621.72,355.45 618.12,357.08 615.40,358.10 C612.68,359.12 610.02,359.77 607.30,360.20 C604.58,360.63 601.08,361.72 599.10,360.70 C597.12,359.68 597.55,355.88 595.40,354.10 C593.25,352.32 589.43,351.37 586.20,350.00 C582.97,348.63 579.40,347.43 576.00,345.90 C572.60,344.37 569.22,342.17 565.80,340.80 C562.38,339.43 559.42,338.38 555.50,337.70 C551.58,337.02 545.53,337.55 542.30,336.70 C539.07,335.85 537.47,334.48 536.10,332.60 C534.73,330.72 534.27,327.95 534.10,325.40 C533.93,322.85 534.42,319.50 535.10,317.30 C535.78,315.10 536.83,313.40 538.20,312.20 C539.57,311.00 542.28,311.30 543.30,310.10 C544.32,308.90 543.97,306.88 544.30,305.00 Z" fill="#BADDF1"/>
<g filter="url(#soft)">
<path d="M545.30,298.80 C546.03,295.58 548.87,294.40 550.40,292.70 C551.93,291.00 553.30,290.32 554.50,288.60 C555.70,286.88 556.07,284.28 557.60,282.40 C559.13,280.52 561.48,278.83 563.70,277.30 C565.92,275.77 569.02,274.55 570.90,273.20 C572.78,271.85 573.30,270.22 575.00,269.20 C576.70,268.18 579.07,267.28 581.10,267.10 C583.13,266.92 585.15,267.93 587.20,268.10 C589.25,268.27 591.08,267.42 593.40,268.10 C595.72,268.78 599.00,270.88 601.10,272.20 C603.20,273.52 604.18,273.70 606.00,276.00 C607.82,278.30 610.17,282.33 612.00,286.00 C613.83,289.67 616.00,294.00 617.00,298.00 C618.00,302.00 618.50,306.67 618.00,310.00 C617.50,313.33 616.33,316.67 614.00,318.00 C611.67,319.33 607.00,318.67 604.00,318.00 C601.00,317.33 598.33,317.00 596.00,314.00 C593.67,311.00 592.67,303.00 590.00,300.00 C587.33,297.00 583.00,295.00 580.00,296.00 C577.00,297.00 574.33,303.00 572.00,306.00 C569.67,309.00 568.67,312.33 566.00,314.00 C563.33,315.67 559.33,316.33 556.00,316.00 C552.67,315.67 547.78,314.87 546.00,312.00 C544.22,309.13 544.57,302.02 545.30,298.80 Z" fill="#79B6DE"/>
<path d="M576.00,294.00 C576.67,291.50 579.67,289.90 582.00,289.00 C584.33,288.10 587.67,288.10 590.00,288.60 C592.33,289.10 594.67,290.10 596.00,292.00 C597.33,293.90 598.00,297.33 598.00,300.00 C598.00,302.67 597.00,305.67 596.00,308.00 C595.00,310.33 593.50,312.50 592.00,314.00 C590.50,315.50 588.67,316.67 587.00,317.00 C585.33,317.33 582.50,317.17 582.00,316.00 C581.50,314.83 582.83,311.83 584.00,310.00 C585.17,308.17 588.00,307.00 589.00,305.00 C590.00,303.00 590.50,299.83 590.00,298.00 C589.50,296.17 587.67,294.00 586.00,294.00 C584.33,294.00 581.33,296.33 580.00,298.00 C578.67,299.67 578.67,304.67 578.00,304.00 C577.33,303.33 575.33,296.50 576.00,294.00 Z" fill="#DCEAF2"/>
<path d="M606.00,276.00 C605.72,273.70 607.88,272.32 610.30,272.20 C612.72,272.08 617.08,273.93 620.50,275.30 C623.92,276.67 627.38,278.37 630.80,280.40 C634.22,282.43 637.93,285.12 641.00,287.50 C644.07,289.88 646.82,292.13 649.20,294.70 C651.58,297.27 653.60,300.02 655.30,302.90 C657.00,305.78 658.30,309.95 659.40,312.00 C660.50,314.05 661.57,312.62 661.90,315.20 C662.23,317.78 662.38,325.03 661.40,327.50 C660.42,329.97 658.57,329.92 656.00,330.00 C653.43,330.08 649.33,328.67 646.00,328.00 C642.67,327.33 639.33,327.00 636.00,326.00 C632.67,325.00 629.00,323.67 626.00,322.00 C623.00,320.33 619.50,319.67 618.00,316.00 C616.50,312.33 618.00,305.00 617.00,300.00 C616.00,295.00 613.83,290.00 612.00,286.00 C610.17,282.00 606.28,278.30 606.00,276.00 Z" fill="#B6DBF0"/>
<path d="M612.00,286.00 C612.83,284.17 617.50,283.50 620.00,284.00 C622.50,284.50 625.67,287.00 627.00,289.00 C628.33,291.00 628.50,294.17 628.00,296.00 C627.50,297.83 625.50,299.33 624.00,300.00 C622.50,300.67 620.50,300.83 619.00,300.00 C617.50,299.17 616.17,297.33 615.00,295.00 C613.83,292.67 611.17,287.83 612.00,286.00 Z" fill="#CCE5F3"/>
<path d="M534.10,325.40 C533.93,322.85 534.42,319.50 535.10,317.30 C535.78,315.10 536.83,313.40 538.20,312.20 C539.57,311.00 541.33,310.63 543.30,310.10 C545.27,309.57 547.55,308.68 550.00,309.00 C552.45,309.32 555.67,310.50 558.00,312.00 C560.33,313.50 562.67,315.33 564.00,318.00 C565.33,320.67 566.33,324.83 566.00,328.00 C565.67,331.17 563.75,335.38 562.00,337.00 C560.25,338.62 558.78,337.75 555.50,337.70 C552.22,337.65 545.53,337.55 542.30,336.70 C539.07,335.85 537.47,334.48 536.10,332.60 C534.73,330.72 534.27,327.95 534.10,325.40 Z" fill="#D5E5EE"/>
<path d="M598.00,316.00 C599.33,314.83 603.00,315.00 606.00,315.00 C609.00,315.00 612.67,315.17 616.00,316.00 C619.33,316.83 623.67,318.00 626.00,320.00 C628.33,322.00 630.00,325.67 630.00,328.00 C630.00,330.33 628.33,333.67 626.00,334.00 C623.67,334.33 619.33,331.50 616.00,330.00 C612.67,328.50 609.00,326.33 606.00,325.00 C603.00,323.67 599.33,323.50 598.00,322.00 C596.67,320.50 596.67,317.17 598.00,316.00 Z" fill="#E2ECF2"/>
<path d="M562.00,318.00 C562.33,316.00 566.67,316.67 570.00,316.00 C573.33,315.33 578.00,314.00 582.00,314.00 C586.00,314.00 590.00,314.67 594.00,316.00 C598.00,317.33 602.00,319.67 606.00,322.00 C610.00,324.33 614.67,327.67 618.00,330.00 C621.33,332.33 625.33,334.33 626.00,336.00 C626.67,337.67 624.67,340.33 622.00,340.00 C619.33,339.67 614.33,336.00 610.00,334.00 C605.67,332.00 600.67,329.33 596.00,328.00 C591.33,326.67 586.67,326.00 582.00,326.00 C577.33,326.00 571.33,329.33 568.00,328.00 C564.67,326.67 561.67,320.00 562.00,318.00 Z" fill="#A9D3EC"/>
<path d="M564.00,330.00 C566.33,328.50 571.67,327.33 576.00,327.00 C580.33,326.67 585.33,327.00 590.00,328.00 C594.67,329.00 599.33,331.00 604.00,333.00 C608.67,335.00 614.05,337.85 618.00,340.00 C621.95,342.15 626.25,344.23 627.70,345.90 C629.15,347.57 627.38,348.63 626.70,350.00 C626.02,351.37 625.48,352.75 623.60,354.10 C621.72,355.45 618.12,357.08 615.40,358.10 C612.68,359.12 610.02,359.77 607.30,360.20 C604.58,360.63 601.08,361.72 599.10,360.70 C597.12,359.68 597.55,355.88 595.40,354.10 C593.25,352.32 589.43,351.37 586.20,350.00 C582.97,348.63 579.40,347.43 576.00,345.90 C572.60,344.37 568.13,342.45 565.80,340.80 C563.47,339.15 562.30,337.80 562.00,336.00 C561.70,334.20 561.67,331.50 564.00,330.00 Z" fill="#AFD5EC"/>
<path d="M575.00,314.20 C575.33,312.70 578.33,312.03 580.00,313.00 C581.67,313.97 584.00,317.67 585.00,320.00 C586.00,322.33 586.33,325.67 586.00,327.00 C585.67,328.33 584.33,328.83 583.00,328.00 C581.67,327.17 579.33,324.30 578.00,322.00 C576.67,319.70 574.67,315.70 575.00,314.20 Z" fill="#1F5DA3"/>
<path d="M627.70,328.50 C629.37,326.83 632.95,327.92 636.00,328.00 C639.05,328.08 642.67,328.67 646.00,329.00 C649.33,329.33 653.50,330.17 656.00,330.00 C658.50,329.83 660.60,327.05 661.00,328.00 C661.40,328.95 659.87,333.23 658.40,335.70 C656.93,338.17 654.60,341.10 652.20,342.80 C649.80,344.50 646.72,345.30 644.00,345.90 C641.28,346.50 638.62,346.40 635.90,346.40 C633.18,346.40 629.35,347.30 627.70,345.90 C626.05,344.50 626.00,340.90 626.00,338.00 C626.00,335.10 626.03,330.17 627.70,328.50 Z" fill="#F5DECE"/>
<path d="M647.00,330.50 C647.67,329.33 652.10,329.58 654.00,330.00 C655.90,330.42 658.07,331.72 658.40,333.00 C658.73,334.28 657.40,337.03 656.00,337.70 C654.60,338.37 651.50,338.20 650.00,337.00 C648.50,335.80 646.33,331.67 647.00,330.50 Z" fill="#6A8EA8"/>
</g>
<g filter="url(#blur2)">
<path d="M580.00,300.00 C581.00,298.33 584.33,297.00 586.00,298.00 C587.67,299.00 590.00,303.67 590.00,306.00 C590.00,308.33 587.67,311.67 586.00,312.00 C584.33,312.33 581.00,310.00 580.00,308.00 C579.00,306.00 579.00,301.67 580.00,300.00 Z" fill="#8A96A2" fill-opacity="0.5"/>
<path d="M608.00,320.00 C609.67,319.67 615.33,322.00 618.00,324.00 C620.67,326.00 624.33,330.67 624.00,332.00 C623.67,333.33 618.67,333.00 616.00,332.00 C613.33,331.00 609.33,328.00 608.00,326.00 C606.67,324.00 606.33,320.33 608.00,320.00 Z" fill="#8A96A2" fill-opacity="0.45"/>
<path d="M540.00,320.00 C540.00,318.00 545.33,317.00 548.00,318.00 C550.67,319.00 556.00,324.00 556.00,326.00 C556.00,328.00 550.67,331.00 548.00,330.00 C545.33,329.00 540.00,322.00 540.00,320.00 Z" fill="#9AA6B0" fill-opacity="0.35"/>
<path d="M614.00,298.00 C614.67,297.00 620.00,298.33 622.00,300.00 C624.00,301.67 626.67,307.00 626.00,308.00 C625.33,309.00 620.00,307.67 618.00,306.00 C616.00,304.33 613.33,299.00 614.00,298.00 Z" fill="#8A96A2" fill-opacity="0.35"/>
</g>
<g filter="url(#blur1)">
<path d="M560.00,286.00 C561.67,285.00 566.67,281.67 570.00,280.00 C573.33,278.33 578.33,276.67 580.00,276.00" fill="none" stroke="#FFFFFF" stroke-width="1.5" stroke-opacity="0.35" stroke-linecap="round" stroke-linejoin="round"/>
<path d="M620.00,290.00 C621.67,291.00 626.67,294.33 630.00,296.00 C633.33,297.67 638.33,299.33 640.00,300.00" fill="none" stroke="#FFFFFF" stroke-width="1.5" stroke-opacity="0.35" stroke-linecap="round" stroke-linejoin="round"/>
<path d="M570.00,334.00 C572.67,334.00 581.00,333.33 586.00,334.00 C591.00,334.67 595.67,336.33 600.00,338.00 C604.33,339.67 610.00,343.00 612.00,344.00" fill="none" stroke="#FFFFFF" stroke-width="1.8" stroke-opacity="0.35" stroke-linecap="round" stroke-linejoin="round"/>
<path d="M600.00,354.00 L610.00,352.00" fill="none" stroke="#FFFFFF" stroke-width="1.4" stroke-opacity="0.35" stroke-linecap="round" stroke-linejoin="round"/>
</g>
<g filter="url(#blur1)">
<path d="M575.00,270.00 C575.17,271.67 576.17,276.33 576.00,280.00 C575.83,283.67 574.33,290.00 574.00,292.00" fill="none" stroke="#1F4763" stroke-width="2.6" stroke-opacity="0.22" stroke-linecap="round" stroke-linejoin="round"/>
<path d="M587.00,268.50 C587.17,270.08 588.17,274.75 588.00,278.00 C587.83,281.25 586.33,286.33 586.00,288.00" fill="none" stroke="#1F4763" stroke-width="2.6" stroke-opacity="0.22" stroke-linecap="round" stroke-linejoin="round"/>
<path d="M598.00,271.00 C598.33,272.83 599.17,278.17 600.00,282.00 C600.83,285.83 602.33,290.00 603.00,294.00 C603.67,298.00 604.17,302.33 604.00,306.00 C603.83,309.67 602.33,314.33 602.00,316.00" fill="none" stroke="#1F4763" stroke-width="2.6" stroke-opacity="0.22" stroke-linecap="round" stroke-linejoin="round"/>
<path d="M609.00,274.00 C609.33,276.00 610.17,282.00 611.00,286.00 C611.83,290.00 613.17,294.00 614.00,298.00 C614.83,302.00 615.67,308.00 616.00,310.00" fill="none" stroke="#1F4763" stroke-width="2.6" stroke-opacity="0.22" stroke-linecap="round" stroke-linejoin="round"/>
<path d="M566.00,277.00 C566.00,278.83 566.67,284.50 566.00,288.00 C565.33,291.50 562.67,296.33 562.00,298.00" fill="none" stroke="#1F4763" stroke-width="2.6" stroke-opacity="0.22" stroke-linecap="round" stroke-linejoin="round"/>
<path d="M556.00,286.00 C556.00,287.67 556.67,292.67 556.00,296.00 C555.33,299.33 552.67,304.33 552.00,306.00" fill="none" stroke="#1F4763" stroke-width="2.6" stroke-opacity="0.22" stroke-linecap="round" stroke-linejoin="round"/>
<path d="M548.00,296.00 C547.67,297.67 546.33,302.67 546.00,306.00 C545.67,309.33 546.00,314.33 546.00,316.00" fill="none" stroke="#1F4763" stroke-width="2.6" stroke-opacity="0.22" stroke-linecap="round" stroke-linejoin="round"/>
<path d="M618.00,282.00 C619.67,282.67 624.67,284.17 628.00,286.00 C631.33,287.83 635.00,290.33 638.00,293.00 C641.00,295.67 643.67,298.83 646.00,302.00 C648.33,305.17 651.00,310.33 652.00,312.00" fill="none" stroke="#1F4763" stroke-width="2.6" stroke-opacity="0.22" stroke-linecap="round" stroke-linejoin="round"/>
<path d="M616.00,296.00 C617.67,296.67 622.67,298.33 626.00,300.00 C629.33,301.67 633.00,303.67 636.00,306.00 C639.00,308.33 641.67,311.00 644.00,314.00 C646.33,317.00 649.00,322.33 650.00,324.00" fill="none" stroke="#1F4763" stroke-width="2.6" stroke-opacity="0.22" stroke-linecap="round" stroke-linejoin="round"/>
<path d="M618.00,312.00 C619.67,312.33 624.67,312.67 628.00,314.00 C631.33,315.33 635.00,318.00 638.00,320.00 C641.00,322.00 644.67,325.00 646.00,326.00" fill="none" stroke="#1F4763" stroke-width="2.6" stroke-opacity="0.22" stroke-linecap="round" stroke-linejoin="round"/>
<path d="M566.00,318.00 C568.00,317.33 573.67,314.33 578.00,314.00 C582.33,313.67 587.33,314.83 592.00,316.00 C596.67,317.17 601.67,319.00 606.00,321.00 C610.33,323.00 614.33,325.50 618.00,328.00 C621.67,330.50 626.33,334.67 628.00,336.00" fill="none" stroke="#1F4763" stroke-width="2.6" stroke-opacity="0.22" stroke-linecap="round" stroke-linejoin="round"/>
<path d="M566.00,330.00 C568.33,329.67 575.33,327.83 580.00,328.00 C584.67,328.17 589.33,329.50 594.00,331.00 C598.67,332.50 603.67,334.83 608.00,337.00 C612.33,339.17 618.00,342.83 620.00,344.00" fill="none" stroke="#1F4763" stroke-width="2.6" stroke-opacity="0.22" stroke-linecap="round" stroke-linejoin="round"/>
<path d="M572.00,340.00 C574.00,340.33 580.00,341.00 584.00,342.00 C588.00,343.00 592.00,344.33 596.00,346.00 C600.00,347.67 606.00,351.00 608.00,352.00" fill="none" stroke="#1F4763" stroke-width="2.6" stroke-opacity="0.22" stroke-linecap="round" stroke-linejoin="round"/>
<path d="M540.00,322.00 C541.33,321.67 545.33,319.33 548.00,320.00 C550.67,320.67 554.67,325.00 556.00,326.00" fill="none" stroke="#1F4763" stroke-width="2.6" stroke-opacity="0.22" stroke-linecap="round" stroke-linejoin="round"/>
<path d="M540.00,330.00 C541.33,330.33 545.33,331.33 548.00,332.00 C550.67,332.67 554.67,333.67 556.00,334.00" fill="none" stroke="#1F4763" stroke-width="2.6" stroke-opacity="0.22" stroke-linecap="round" stroke-linejoin="round"/>
<path d="M632.00,330.00 C633.33,330.67 637.33,332.67 640.00,334.00 C642.67,335.33 646.67,337.33 648.00,338.00" fill="none" stroke="#1F4763" stroke-width="2.6" stroke-opacity="0.22" stroke-linecap="round" stroke-linejoin="round"/>
</g>
<path d="M575.00,270.00 C575.17,271.67 576.17,276.33 576.00,280.00 C575.83,283.67 574.33,290.00 574.00,292.00" fill="none" stroke="#27465E" stroke-width="0.6" stroke-opacity="0.7" stroke-linecap="round" stroke-linejoin="round"/>
<path d="M587.00,268.50 C587.17,270.08 588.17,274.75 588.00,278.00 C587.83,281.25 586.33,286.33 586.00,288.00" fill="none" stroke="#27465E" stroke-width="0.6" stroke-opacity="0.7" stroke-linecap="round" stroke-linejoin="round"/>
<path d="M598.00,271.00 C598.33,272.83 599.17,278.17 600.00,282.00 C600.83,285.83 602.33,290.00 603.00,294.00 C603.67,298.00 604.17,302.33 604.00,306.00 C603.83,309.67 602.33,314.33 602.00,316.00" fill="none" stroke="#27465E" stroke-width="0.6" stroke-opacity="0.7" stroke-linecap="round" stroke-linejoin="round"/>
<path d="M609.00,274.00 C609.33,276.00 610.17,282.00 611.00,286.00 C611.83,290.00 613.17,294.00 614.00,298.00 C614.83,302.00 615.67,308.00 616.00,310.00" fill="none" stroke="#27465E" stroke-width="0.6" stroke-opacity="0.7" stroke-linecap="round" stroke-linejoin="round"/>
<path d="M566.00,277.00 C566.00,278.83 566.67,284.50 566.00,288.00 C565.33,291.50 562.67,296.33 562.00,298.00" fill="none" stroke="#27465E" stroke-width="0.6" stroke-opacity="0.7" stroke-linecap="round" stroke-linejoin="round"/>
<path d="M556.00,286.00 C556.00,287.67 556.67,292.67 556.00,296.00 C555.33,299.33 552.67,304.33 552.00,306.00" fill="none" stroke="#27465E" stroke-width="0.6" stroke-opacity="0.7" stroke-linecap="round" stroke-linejoin="round"/>
<path d="M548.00,296.00 C547.67,297.67 546.33,302.67 546.00,306.00 C545.67,309.33 546.00,314.33 546.00,316.00" fill="none" stroke="#27465E" stroke-width="0.6" stroke-opacity="0.7" stroke-linecap="round" stroke-linejoin="round"/>
<path d="M618.00,282.00 C619.67,282.67 624.67,284.17 628.00,286.00 C631.33,287.83 635.00,290.33 638.00,293.00 C641.00,295.67 643.67,298.83 646.00,302.00 C648.33,305.17 651.00,310.33 652.00,312.00" fill="none" stroke="#27465E" stroke-width="0.6" stroke-opacity="0.7" stroke-linecap="round" stroke-linejoin="round"/>
<path d="M616.00,296.00 C617.67,296.67 622.67,298.33 626.00,300.00 C629.33,301.67 633.00,303.67 636.00,306.00 C639.00,308.33 641.67,311.00 644.00,314.00 C646.33,317.00 649.00,322.33 650.00,324.00" fill="none" stroke="#27465E" stroke-width="0.6" stroke-opacity="0.7" stroke-linecap="round" stroke-linejoin="round"/>
<path d="M618.00,312.00 C619.67,312.33 624.67,312.67 628.00,314.00 C631.33,315.33 635.00,318.00 638.00,320.00 C641.00,322.00 644.67,325.00 646.00,326.00" fill="none" stroke="#27465E" stroke-width="0.6" stroke-opacity="0.7" stroke-linecap="round" stroke-linejoin="round"/>
<path d="M566.00,318.00 C568.00,317.33 573.67,314.33 578.00,314.00 C582.33,313.67 587.33,314.83 592.00,316.00 C596.67,317.17 601.67,319.00 606.00,321.00 C610.33,323.00 614.33,325.50 618.00,328.00 C621.67,330.50 626.33,334.67 628.00,336.00" fill="none" stroke="#27465E" stroke-width="0.6" stroke-opacity="0.75" stroke-linecap="round" stroke-linejoin="round"/>
<path d="M566.00,330.00 C568.33,329.67 575.33,327.83 580.00,328.00 C584.67,328.17 589.33,329.50 594.00,331.00 C598.67,332.50 603.67,334.83 608.00,337.00 C612.33,339.17 618.00,342.83 620.00,344.00" fill="none" stroke="#27465E" stroke-width="0.6" stroke-opacity="0.7" stroke-linecap="round" stroke-linejoin="round"/>
<path d="M572.00,340.00 C574.00,340.33 580.00,341.00 584.00,342.00 C588.00,343.00 592.00,344.33 596.00,346.00 C600.00,347.67 606.00,351.00 608.00,352.00" fill="none" stroke="#27465E" stroke-width="0.6" stroke-opacity="0.7" stroke-linecap="round" stroke-linejoin="round"/>
<path d="M540.00,322.00 C541.33,321.67 545.33,319.33 548.00,320.00 C550.67,320.67 554.67,325.00 556.00,326.00" fill="none" stroke="#27465E" stroke-width="0.6" stroke-opacity="0.7" stroke-linecap="round" stroke-linejoin="round"/>
<path d="M540.00,330.00 C541.33,330.33 545.33,331.33 548.00,332.00 C550.67,332.67 554.67,333.67 556.00,334.00" fill="none" stroke="#27465E" stroke-width="0.6" stroke-opacity="0.7" stroke-linecap="round" stroke-linejoin="round"/>
<path d="M632.00,330.00 C633.33,330.67 637.33,332.67 640.00,334.00 C642.67,335.33 646.67,337.33 648.00,338.00" fill="none" stroke="#27465E" stroke-width="0.6" stroke-opacity="0.7" stroke-linecap="round" stroke-linejoin="round"/>
<path d="M544.30,305.00 C544.63,303.12 544.28,300.85 545.30,298.80 C546.32,296.75 548.87,294.40 550.40,292.70 C551.93,291.00 553.30,290.32 554.50,288.60 C555.70,286.88 556.07,284.28 557.60,282.40 C559.13,280.52 561.48,278.83 563.70,277.30 C565.92,275.77 569.02,274.55 570.90,273.20 C572.78,271.85 573.30,270.22 575.00,269.20 C576.70,268.18 579.07,267.28 581.10,267.10 C583.13,266.92 585.15,267.93 587.20,268.10 C589.25,268.27 591.08,267.42 593.40,268.10 C595.72,268.78 598.28,271.52 601.10,272.20 C603.92,272.88 607.07,271.68 610.30,272.20 C613.53,272.72 617.08,273.93 620.50,275.30 C623.92,276.67 627.38,278.37 630.80,280.40 C634.22,282.43 637.93,285.12 641.00,287.50 C644.07,289.88 646.82,292.13 649.20,294.70 C651.58,297.27 653.60,300.02 655.30,302.90 C657.00,305.78 658.30,309.95 659.40,312.00 C660.50,314.05 661.57,312.62 661.90,315.20 C662.23,317.78 661.98,324.08 661.40,327.50 C660.82,330.92 659.93,333.15 658.40,335.70 C656.87,338.25 654.60,341.10 652.20,342.80 C649.80,344.50 646.72,345.30 644.00,345.90 C641.28,346.50 638.62,346.40 635.90,346.40 C633.18,346.40 629.23,345.30 627.70,345.90 C626.17,346.50 627.38,348.63 626.70,350.00 C626.02,351.37 625.48,352.75 623.60,354.10 C621.72,355.45 618.12,357.08 615.40,358.10 C612.68,359.12 610.02,359.77 607.30,360.20 C604.58,360.63 601.08,361.72 599.10,360.70 C597.12,359.68 597.55,355.88 595.40,354.10 C593.25,352.32 589.43,351.37 586.20,350.00 C582.97,348.63 579.40,347.43 576.00,345.90 C572.60,344.37 569.22,342.17 565.80,340.80 C562.38,339.43 559.42,338.38 555.50,337.70 C551.58,337.02 545.53,337.55 542.30,336.70 C539.07,335.85 537.47,334.48 536.10,332.60 C534.73,330.72 534.27,327.95 534.10,325.40 C533.93,322.85 534.42,319.50 535.10,317.30 C535.78,315.10 536.83,313.40 538.20,312.20 C539.57,311.00 542.28,311.30 543.30,310.10 C544.32,308.90 543.97,306.88 544.30,305.00 Z" fill="url(#shade)"/>
</g>
<path d="M544.30,305.00 C544.63,303.12 544.28,300.85 545.30,298.80 C546.32,296.75 548.87,294.40 550.40,292.70 C551.93,291.00 553.30,290.32 554.50,288.60 C555.70,286.88 556.07,284.28 557.60,282.40 C559.13,280.52 561.48,278.83 563.70,277.30 C565.92,275.77 569.02,274.55 570.90,273.20 C572.78,271.85 573.30,270.22 575.00,269.20 C576.70,268.18 579.07,267.28 581.10,267.10 C583.13,266.92 585.15,267.93 587.20,268.10 C589.25,268.27 591.08,267.42 593.40,268.10 C595.72,268.78 598.28,271.52 601.10,272.20 C603.92,272.88 607.07,271.68 610.30,272.20 C613.53,272.72 617.08,273.93 620.50,275.30 C623.92,276.67 627.38,278.37 630.80,280.40 C634.22,282.43 637.93,285.12 641.00,287.50 C644.07,289.88 646.82,292.13 649.20,294.70 C651.58,297.27 653.60,300.02 655.30,302.90 C657.00,305.78 658.30,309.95 659.40,312.00 C660.50,314.05 661.57,312.62 661.90,315.20 C662.23,317.78 661.98,324.08 661.40,327.50 C660.82,330.92 659.93,333.15 658.40,335.70 C656.87,338.25 654.60,341.10 652.20,342.80 C649.80,344.50 646.72,345.30 644.00,345.90 C641.28,346.50 638.62,346.40 635.90,346.40 C633.18,346.40 629.23,345.30 627.70,345.90 C626.17,346.50 627.38,348.63 626.70,350.00 C626.02,351.37 625.48,352.75 623.60,354.10 C621.72,355.45 618.12,357.08 615.40,358.10 C612.68,359.12 610.02,359.77 607.30,360.20 C604.58,360.63 601.08,361.72 599.10,360.70 C597.12,359.68 597.55,355.88 595.40,354.10 C593.25,352.32 589.43,351.37 586.20,350.00 C582.97,348.63 579.40,347.43 576.00,345.90 C572.60,344.37 569.22,342.17 565.80,340.80 C562.38,339.43 559.42,338.38 555.50,337.70 C551.58,337.02 545.53,337.55 542.30,336.70 C539.07,335.85 537.47,334.48 536.10,332.60 C534.73,330.72 534.27,327.95 534.10,325.40 C533.93,322.85 534.42,319.50 535.10,317.30 C535.78,315.10 536.83,313.40 538.20,312.20 C539.57,311.00 542.28,311.30 543.30,310.10 C544.32,308.90 543.97,306.88 544.30,305.00 Z" fill="none" stroke="#2A3F50" stroke-width="0.75" stroke-opacity="0.9"/>
<path d="M104.50,381.00 C104.00,379.17 104.25,374.83 105.00,372.00 C105.75,369.17 107.00,366.17 109.00,364.00 C111.00,361.83 113.83,360.25 117.00,359.00 C120.17,357.75 124.17,356.92 128.00,356.50 C131.83,356.08 137.17,356.33 140.00,356.50 C142.83,356.67 145.67,357.08 145.00,357.50 C144.33,357.92 139.17,358.42 136.00,359.00 C132.83,359.58 129.00,360.00 126.00,361.00 C123.00,362.00 120.33,363.33 118.00,365.00 C115.67,366.67 113.50,368.83 112.00,371.00 C110.50,373.17 109.67,376.00 109.00,378.00 C108.33,380.00 108.75,382.50 108.00,383.00 C107.25,383.50 105.00,382.83 104.50,381.00 Z" fill="#C5E2F2" stroke="#2E4456" stroke-width="0.5" stroke-opacity="0.8"/>
<path d="M131.00,364.00 C132.17,362.42 135.50,361.83 138.00,361.50 C140.50,361.17 143.33,361.25 146.00,362.00 C148.67,362.75 152.17,364.33 154.00,366.00 C155.83,367.67 156.67,369.83 157.00,372.00 C157.33,374.17 157.17,377.33 156.00,379.00 C154.83,380.67 152.50,381.50 150.00,382.00 C147.50,382.50 143.67,382.67 141.00,382.00 C138.33,381.33 135.67,379.83 134.00,378.00 C132.33,376.17 131.50,373.33 131.00,371.00 C130.50,368.67 129.83,365.58 131.00,364.00 Z" fill="#ABD3EA" stroke="#2E4456" stroke-width="0.5" stroke-opacity="0.8"/>
<path d="M111.00,374.00 C111.83,371.58 113.17,368.92 115.00,367.50 C116.83,366.08 119.33,365.83 122.00,365.50 C124.67,365.17 128.17,365.08 131.00,365.50 C133.83,365.92 137.00,366.58 139.00,368.00 C141.00,369.42 142.50,372.00 143.00,374.00 C143.50,376.00 143.00,378.33 142.00,380.00 C141.00,381.67 139.00,383.00 137.00,384.00 C135.00,385.00 132.17,385.25 130.00,386.00 C127.83,386.75 126.00,387.83 124.00,388.50 C122.00,389.17 119.83,390.08 118.00,390.00 C116.17,389.92 114.33,389.33 113.00,388.00 C111.67,386.67 110.33,384.33 110.00,382.00 C109.67,379.67 110.17,376.42 111.00,374.00 Z" fill="#2F7AB9" stroke="#2E4456" stroke-width="0.5" stroke-opacity="0.8"/>
<path d="M131.00,398.00 C130.67,396.75 133.17,393.67 135.00,392.00 C136.83,390.33 139.50,389.50 142.00,388.00 C144.50,386.50 147.50,384.67 150.00,383.00 C152.50,381.33 155.17,379.25 157.00,378.00 C158.83,376.75 160.00,375.50 161.00,375.50 C162.00,375.50 163.00,376.58 163.00,378.00 C163.00,379.42 162.50,382.00 161.00,384.00 C159.50,386.00 156.67,388.17 154.00,390.00 C151.33,391.83 147.83,393.42 145.00,395.00 C142.17,396.58 139.33,399.00 137.00,399.50 C134.67,400.00 131.33,399.25 131.00,398.00 Z" fill="#D5E7F1" stroke="#2E4456" stroke-width="0.5" stroke-opacity="0.8"/>
<path d="M127.00,390.00 C127.58,388.42 129.50,386.83 131.00,386.50 C132.50,386.17 135.00,386.75 136.00,388.00 C137.00,389.25 137.17,392.00 137.00,394.00 C136.83,396.00 136.17,398.83 135.00,400.00 C133.83,401.17 131.25,401.67 130.00,401.00 C128.75,400.33 128.00,397.83 127.50,396.00 C127.00,394.17 126.42,391.58 127.00,390.00 Z" fill="#9CCBE4" stroke="#2E4456" stroke-width="0.5" stroke-opacity="0.8"/>
<path d="M200.00,359.00 C200.67,357.83 205.00,357.17 208.00,357.00 C211.00,356.83 214.67,357.17 218.00,358.00 C221.33,358.83 225.00,360.00 228.00,362.00 C231.00,364.00 234.08,367.00 236.00,370.00 C237.92,373.00 239.33,377.50 239.50,380.00 C239.67,382.50 238.08,384.83 237.00,385.00 C235.92,385.17 234.33,383.00 233.00,381.00 C231.67,379.00 230.83,375.33 229.00,373.00 C227.17,370.67 224.83,368.50 222.00,367.00 C219.17,365.50 215.00,364.50 212.00,364.00 C209.00,363.50 206.00,364.83 204.00,364.00 C202.00,363.17 199.33,360.17 200.00,359.00 Z" fill="#C5E2F2" stroke="#2E4456" stroke-width="0.5" stroke-opacity="0.8"/>
<path d="M183.50,374.00 C183.50,371.83 184.58,368.83 186.00,367.00 C187.42,365.17 189.67,363.83 192.00,363.00 C194.33,362.17 197.33,361.83 200.00,362.00 C202.67,362.17 205.67,362.67 208.00,364.00 C210.33,365.33 212.67,367.83 214.00,370.00 C215.33,372.17 216.33,374.83 216.00,377.00 C215.67,379.17 214.33,381.58 212.00,383.00 C209.67,384.42 205.33,385.33 202.00,385.50 C198.67,385.67 194.67,384.92 192.00,384.00 C189.33,383.08 187.42,381.67 186.00,380.00 C184.58,378.33 183.50,376.17 183.50,374.00 Z" fill="#ABD3EA" stroke="#2E4456" stroke-width="0.5" stroke-opacity="0.8"/>
<path d="M205.00,383.00 C205.00,381.00 209.67,377.00 212.00,375.00 C214.33,373.00 217.00,371.33 219.00,371.00 C221.00,370.67 222.83,371.50 224.00,373.00 C225.17,374.50 226.50,377.83 226.00,380.00 C225.50,382.17 223.33,384.83 221.00,386.00 C218.67,387.17 214.67,387.50 212.00,387.00 C209.33,386.50 205.00,385.00 205.00,383.00 Z" fill="#2F7AB9" stroke="#2E4456" stroke-width="0.5" stroke-opacity="0.8"/>
<path d="M219.50,383.00 C220.25,382.08 222.25,381.33 224.00,381.00 C225.75,380.67 228.58,380.50 230.00,381.00 C231.42,381.50 232.67,382.75 232.50,384.00 C232.33,385.25 230.58,387.67 229.00,388.50 C227.42,389.33 224.58,389.33 223.00,389.00 C221.42,388.67 220.08,387.50 219.50,386.50 C218.92,385.50 218.75,383.92 219.50,383.00 Z" fill="#F4A989" stroke="#2E4456" stroke-width="0.5" stroke-opacity="0.8"/>
<path d="M179.00,376.00 C178.67,373.92 180.00,373.17 181.00,373.50 C182.00,373.83 183.50,375.92 185.00,378.00 C186.50,380.08 187.83,383.50 190.00,386.00 C192.17,388.50 195.33,391.00 198.00,393.00 C200.67,395.00 204.00,396.67 206.00,398.00 C208.00,399.33 209.83,400.00 210.00,401.00 C210.17,402.00 208.83,404.00 207.00,404.00 C205.17,404.00 201.83,402.67 199.00,401.00 C196.17,399.33 192.67,396.50 190.00,394.00 C187.33,391.50 184.83,389.00 183.00,386.00 C181.17,383.00 179.33,378.08 179.00,376.00 Z" fill="#D5E7F1" stroke="#2E4456" stroke-width="0.5" stroke-opacity="0.8"/>
<path d="M204.00,389.00 C204.67,387.42 207.33,387.33 209.00,387.50 C210.67,387.67 212.83,388.42 214.00,390.00 C215.17,391.58 216.17,394.75 216.00,397.00 C215.83,399.25 214.33,402.50 213.00,403.50 C211.67,404.50 209.33,404.08 208.00,403.00 C206.67,401.92 205.67,399.33 205.00,397.00 C204.33,394.67 203.33,390.58 204.00,389.00 Z" fill="#9CCBE4" stroke="#2E4456" stroke-width="0.5" stroke-opacity="0.8"/>
<path d="M452.50,381.50 C451.33,379.67 452.25,374.75 453.00,372.00 C453.75,369.25 455.17,367.00 457.00,365.00 C458.83,363.00 461.17,361.25 464.00,360.00 C466.83,358.75 470.33,357.95 474.00,357.50 C477.67,357.05 483.33,357.22 486.00,357.30 C488.67,357.38 490.67,357.47 490.00,358.00 C489.33,358.53 484.67,359.50 482.00,360.50 C479.33,361.50 476.33,362.42 474.00,364.00 C471.67,365.58 469.33,367.67 468.00,370.00 C466.67,372.33 467.33,375.83 466.00,378.00 C464.67,380.17 462.25,382.42 460.00,383.00 C457.75,383.58 453.67,383.33 452.50,381.50 Z" fill="#FBE2D5" stroke="#2E4456" stroke-width="0.5" stroke-opacity="0.8"/>
<path d="M473.50,368.00 C474.00,366.00 475.92,364.92 478.00,364.00 C480.08,363.08 483.00,362.67 486.00,362.50 C489.00,362.33 493.00,362.25 496.00,363.00 C499.00,363.75 502.25,365.33 504.00,367.00 C505.75,368.67 506.67,371.00 506.50,373.00 C506.33,375.00 505.08,377.58 503.00,379.00 C500.92,380.42 497.50,381.17 494.00,381.50 C490.50,381.83 485.17,381.92 482.00,381.00 C478.83,380.08 476.42,378.17 475.00,376.00 C473.58,373.83 473.00,370.00 473.50,368.00 Z" fill="#B4D7EA" stroke="#2E4456" stroke-width="0.5" stroke-opacity="0.8"/>
<path d="M468.00,371.00 C468.67,369.50 470.67,368.67 472.00,369.00 C473.33,369.33 475.33,371.33 476.00,373.00 C476.67,374.67 476.67,377.67 476.00,379.00 C475.33,380.33 473.33,381.17 472.00,381.00 C470.67,380.83 468.67,379.67 468.00,378.00 C467.33,376.33 467.33,372.50 468.00,371.00 Z" fill="#6AAAD3" stroke="#2E4456" stroke-width="0.5" stroke-opacity="0.8"/>
<path d="M456.00,382.50 C456.50,381.17 459.17,380.33 461.00,380.00 C462.83,379.67 465.33,379.92 467.00,380.50 C468.67,381.08 470.50,382.33 471.00,383.50 C471.50,384.67 471.17,386.50 470.00,387.50 C468.83,388.50 466.00,389.42 464.00,389.50 C462.00,389.58 459.33,389.17 458.00,388.00 C456.67,386.83 455.50,383.83 456.00,382.50 Z" fill="#E3826A" stroke="#2E4456" stroke-width="0.5" stroke-opacity="0.8"/>
<path d="M476.00,399.00 C475.67,397.50 476.50,394.83 478.00,393.00 C479.50,391.17 482.33,389.67 485.00,388.00 C487.67,386.33 491.00,384.83 494.00,383.00 C497.00,381.17 500.75,378.50 503.00,377.00 C505.25,375.50 506.58,373.83 507.50,374.00 C508.42,374.17 508.92,376.33 508.50,378.00 C508.08,379.67 506.92,381.83 505.00,384.00 C503.08,386.17 500.00,388.83 497.00,391.00 C494.00,393.17 489.83,395.17 487.00,397.00 C484.17,398.83 481.83,401.67 480.00,402.00 C478.17,402.33 476.33,400.50 476.00,399.00 Z" fill="#6BACD3" stroke="#2E4456" stroke-width="0.5" stroke-opacity="0.8"/>
<path d="M474.50,390.00 C475.25,388.33 477.58,386.17 479.00,386.00 C480.42,385.83 482.17,387.17 483.00,389.00 C483.83,390.83 484.33,394.67 484.00,397.00 C483.67,399.33 482.25,402.17 481.00,403.00 C479.75,403.83 477.58,403.17 476.50,402.00 C475.42,400.83 474.83,398.00 474.50,396.00 C474.17,394.00 473.75,391.67 474.50,390.00 Z" fill="#5EA2CE" stroke="#2E4456" stroke-width="0.5" stroke-opacity="0.8"/>
<path d="M542.00,359.00 C541.50,358.08 547.00,356.83 550.00,356.50 C553.00,356.17 556.67,356.25 560.00,357.00 C563.33,357.75 567.17,359.33 570.00,361.00 C572.83,362.67 575.33,364.83 577.00,367.00 C578.67,369.17 579.58,371.33 580.00,374.00 C580.42,376.67 580.25,381.50 579.50,383.00 C578.75,384.50 576.25,384.17 575.50,383.00 C574.75,381.83 575.75,378.33 575.00,376.00 C574.25,373.67 573.00,371.00 571.00,369.00 C569.00,367.00 566.00,365.17 563.00,364.00 C560.00,362.83 556.50,362.83 553.00,362.00 C549.50,361.17 542.50,359.92 542.00,359.00 Z" fill="#FBE2D5" stroke="#2E4456" stroke-width="0.5" stroke-opacity="0.8"/>
<path d="M526.00,375.00 C526.00,373.17 526.67,369.83 528.00,368.00 C529.33,366.17 531.67,364.83 534.00,364.00 C536.33,363.17 539.33,362.83 542.00,363.00 C544.67,363.17 548.00,363.83 550.00,365.00 C552.00,366.17 553.67,368.17 554.00,370.00 C554.33,371.83 553.67,374.50 552.00,376.00 C550.33,377.50 547.00,378.33 544.00,379.00 C541.00,379.67 536.67,380.00 534.00,380.00 C531.33,380.00 529.33,379.83 528.00,379.00 C526.67,378.17 526.00,376.83 526.00,375.00 Z" fill="#B4D7EA" stroke="#2E4456" stroke-width="0.5" stroke-opacity="0.8"/>
<path d="M543.00,372.00 C543.33,369.33 545.83,367.33 548.00,366.00 C550.17,364.67 553.00,364.00 556.00,364.00 C559.00,364.00 563.17,364.67 566.00,366.00 C568.83,367.33 571.67,369.67 573.00,372.00 C574.33,374.33 574.50,377.67 574.00,380.00 C573.50,382.33 572.00,384.58 570.00,386.00 C568.00,387.42 564.83,388.33 562.00,388.50 C559.17,388.67 555.67,388.08 553.00,387.00 C550.33,385.92 547.67,384.50 546.00,382.00 C544.33,379.50 542.67,374.67 543.00,372.00 Z" fill="#6AAAD3" stroke="#2E4456" stroke-width="0.5" stroke-opacity="0.8"/>
<path d="M522.50,377.00 C522.50,375.33 523.75,374.00 525.00,375.00 C526.25,376.00 527.83,380.33 530.00,383.00 C532.17,385.67 535.00,388.67 538.00,391.00 C541.00,393.33 545.17,395.67 548.00,397.00 C550.83,398.33 553.67,398.00 555.00,399.00 C556.33,400.00 556.83,402.25 556.00,403.00 C555.17,403.75 552.67,404.17 550.00,403.50 C547.33,402.83 543.17,400.92 540.00,399.00 C536.83,397.08 533.50,394.33 531.00,392.00 C528.50,389.67 526.42,387.50 525.00,385.00 C523.58,382.50 522.50,378.67 522.50,377.00 Z" fill="#6BACD3" stroke="#2E4456" stroke-width="0.5" stroke-opacity="0.8"/>
<path d="M548.00,389.00 C548.83,387.50 551.50,386.67 553.00,387.00 C554.50,387.33 556.17,389.17 557.00,391.00 C557.83,392.83 558.33,395.92 558.00,398.00 C557.67,400.08 556.33,402.67 555.00,403.50 C553.67,404.33 551.17,404.25 550.00,403.00 C548.83,401.75 548.33,398.33 548.00,396.00 C547.67,393.67 547.17,390.50 548.00,389.00 Z" fill="#5EA2CE" stroke="#2E4456" stroke-width="0.5" stroke-opacity="0.8"/>
<text x="116.90" y="268.70" font-size="8.25" text-anchor="start" fill="#222">Postcentral</text>
<line x1="114.8" y1="264.6" x2="104.4" y2="280.4" stroke="#222" stroke-width="0.55"/>
<text x="144.90" y="283.40" font-size="8.25" text-anchor="start" fill="#222">Superior parietal</text>
<line x1="142.6" y1="281.4" x2="130.2" y2="299.8" stroke="#222" stroke-width="0.55"/>
<text x="129.10" y="351.80" font-size="8.25" text-anchor="start" fill="#222">Inferior temporal</text>
<line x1="127" y1="349.3" x2="95.8" y2="347.7" stroke="#222" stroke-width="0.55"/>
<text x="64.50" y="400.80" font-size="8.25" text-anchor="start" fill="#222">Putamen</text>
<line x1="99.9" y1="395.5" x2="125" y2="376.9" stroke="#222" stroke-width="0.55"/>
<text x="229.30" y="258.80" font-size="8.25" text-anchor="start" fill="#222">Isthmus cingulate</text>
<line x1="260.9" y1="261.4" x2="225" y2="306" stroke="#222" stroke-width="0.55"/>
<text x="472.20" y="266.80" font-size="8.25" text-anchor="start" fill="#222">Paracentral</text>
<line x1="470" y1="264.3" x2="452.5" y2="286" stroke="#222" stroke-width="0.55"/>
<text x="496.10" y="279.40" font-size="8.25" text-anchor="start" fill="#222">Precuneus</text>
<line x1="493.6" y1="276.9" x2="463.4" y2="298" stroke="#222" stroke-width="0.55"/>
<text x="496.10" y="303.60" font-size="8.25" text-anchor="start" fill="#222">Banks STS</text>
<line x1="537.9" y1="300.6" x2="584.3" y2="323.2" stroke="#222" stroke-width="0.55"/>
<text x="482.00" y="350.00" font-size="8.25" text-anchor="start" fill="#222">Parahippocampal</text>
<line x1="480" y1="345.9" x2="448.3" y2="340.9" stroke="#222" stroke-width="0.55"/>
<text x="398.40" y="397.30" font-size="8.25" text-anchor="start" fill="#222">Accumbens</text>
<line x1="445.8" y1="391.2" x2="463.4" y2="383.7" stroke="#222" stroke-width="0.55"/>
<text x="146.10" y="438.00" font-size="13.3" text-anchor="start" fill="#222" word-spacing="0.55">Y<tspan font-size="8.6" dy="2.6">i</tspan><tspan dy="-2.6"> = β</tspan><tspan font-size="8.6" dy="2.6">1</tspan><tspan dy="-2.6"> × diagnosis</tspan><tspan font-size="8.6" dy="2.6">i</tspan><tspan dy="-2.6"> + β</tspan><tspan font-size="8.6" dy="2.6">2</tspan><tspan dy="-2.6"> × age</tspan><tspan font-size="8.6" dy="2.6">i</tspan><tspan dy="-2.6"> + β</tspan><tspan font-size="8.6" dy="2.6">3</tspan><tspan dy="-2.6"> × sex</tspan><tspan font-size="8.6" dy="2.6">i</tspan><tspan dy="-2.6"> + β</tspan><tspan font-size="8.6" dy="2.6">4</tspan><tspan dy="-2.6"> × site</tspan><tspan font-size="8.6" dy="2.6">i</tspan><tspan dy="-2.6"> + (β</tspan><tspan font-size="8.6" dy="2.6">5</tspan><tspan dy="-2.6"> × ICV</tspan><tspan font-size="8.6" dy="2.6">i</tspan><tspan dy="-2.6">)</tspan></text>
<rect x="39.10" y="454.8" width="13.73" height="26.30" fill="#1E61A5"/>
<rect x="39.10" y="481.1" width="13.73" height="26.30" fill="#98C8E0"/>
<text x="48.22" y="513.00" font-size="8.1" text-anchor="end" fill="#222" transform="rotate(-90 48.21617647058824 513.0)">Banks STS</text>
<rect x="52.53" y="454.8" width="13.73" height="26.30" fill="#A5CEE3"/>
<rect x="52.53" y="481.1" width="13.73" height="26.30" fill="#D7E8F1"/>
<text x="61.65" y="513.00" font-size="8.1" text-anchor="end" fill="#222" transform="rotate(-90 61.648529411764706 513.0)">Caudal anterior cingulate</text>
<rect x="65.96" y="454.8" width="13.73" height="26.30" fill="#CFE4EF"/>
<rect x="65.96" y="481.1" width="13.73" height="26.30" fill="#BDDBEA"/>
<text x="75.08" y="513.00" font-size="8.1" text-anchor="end" fill="#222" transform="rotate(-90 75.08088235294119 513.0)">Caudal middle frontal</text>
<rect x="79.40" y="454.8" width="13.73" height="26.30" fill="#B3D6E8"/>
<rect x="79.40" y="481.1" width="13.73" height="26.30" fill="#BDDBEA"/>
<text x="88.51" y="513.00" font-size="8.1" text-anchor="end" fill="#222" transform="rotate(-90 88.51323529411766 513.0)">Cuneus</text>
<rect x="92.83" y="454.8" width="13.73" height="26.30" fill="#FBE4D6"/>
<rect x="92.83" y="481.1" width="13.73" height="26.30" fill="#F3F5F6"/>
<text x="101.95" y="513.00" font-size="8.1" text-anchor="end" fill="#222" transform="rotate(-90 101.94558823529412 513.0)">Entorhinal</text>
<rect x="106.26" y="454.8" width="13.73" height="26.30" fill="#84BCD9"/>
<rect x="106.26" y="481.1" width="13.73" height="26.30" fill="#DBEAF2"/>
<text x="115.38" y="513.00" font-size="8.1" text-anchor="end" fill="#222" transform="rotate(-90 115.37794117647059 513.0)">Fusiform</text>
<rect x="119.69" y="454.8" width="13.73" height="26.30" fill="#8AC0DB"/>
<rect x="119.69" y="481.1" width="13.73" height="26.30" fill="#7BB6D6"/>
<text x="128.81" y="513.00" font-size="8.1" text-anchor="end" fill="#222" transform="rotate(-90 128.81029411764706 513.0)">Inferior parietal</text>
<rect x="133.13" y="454.8" width="13.73" height="26.30" fill="#A7D0E4"/>
<rect x="133.13" y="481.1" width="13.73" height="26.30" fill="#3B88BE"/>
<text x="142.24" y="513.00" font-size="8.1" text-anchor="end" fill="#222" transform="rotate(-90 142.24264705882354 513.0)">Inferior temporal</text>
<rect x="146.56" y="454.8" width="13.73" height="26.30" fill="#FCD7C2"/>
<rect x="146.56" y="481.1" width="13.73" height="26.30" fill="#529DC8"/>
<text x="155.68" y="513.00" font-size="8.1" text-anchor="end" fill="#222" transform="rotate(-90 155.675 513.0)">Isthmus cingulate</text>
<rect x="159.99" y="454.8" width="13.73" height="26.30" fill="#D1E5F0"/>
<rect x="159.99" y="481.1" width="13.73" height="26.30" fill="#529DC8"/>
<text x="169.11" y="513.00" font-size="8.1" text-anchor="end" fill="#222" transform="rotate(-90 169.1073529411765 513.0)">Lateral occipital</text>
<rect x="173.42" y="454.8" width="13.73" height="26.30" fill="#FAE9DF"/>
<rect x="173.42" y="481.1" width="13.73" height="26.30" fill="#C7E0ED"/>
<text x="182.54" y="513.00" font-size="8.1" text-anchor="end" fill="#222" transform="rotate(-90 182.53970588235293 513.0)">Lateral orbitofrontal</text>
<rect x="186.86" y="454.8" width="13.73" height="26.30" fill="#F2F5F6"/>
<rect x="186.86" y="481.1" width="13.73" height="26.30" fill="#E0ECF3"/>
<text x="195.97" y="513.00" font-size="8.1" text-anchor="end" fill="#222" transform="rotate(-90 195.9720588235294 513.0)">Lingual</text>
<rect x="200.29" y="454.8" width="13.73" height="26.30" fill="#FDDDCB"/>
<rect x="200.29" y="481.1" width="13.73" height="26.30" fill="#FAE8DE"/>
<text x="209.40" y="513.00" font-size="8.1" text-anchor="end" fill="#222" transform="rotate(-90 209.40441176470588 513.0)">Medial orbitofrontal</text>
<rect x="213.72" y="454.8" width="13.73" height="26.30" fill="#C0DCEB"/>
<rect x="213.72" y="481.1" width="13.73" height="26.30" fill="#DEEBF2"/>
<text x="222.84" y="513.00" font-size="8.1" text-anchor="end" fill="#222" transform="rotate(-90 222.83676470588236 513.0)">Middle temporal</text>
<rect x="227.15" y="454.8" width="13.73" height="26.30" fill="#063264"/>
<rect x="227.15" y="481.1" width="13.73" height="26.30" fill="#D5E7F1"/>
<text x="236.27" y="513.00" font-size="8.1" text-anchor="end" fill="#222" transform="rotate(-90 236.2691176470588 513.0)">Parahippocampal</text>
<rect x="240.59" y="454.8" width="13.73" height="26.30" fill="#4291C2"/>
<rect x="240.59" y="481.1" width="13.73" height="26.30" fill="#C2DDEC"/>
<text x="249.70" y="513.00" font-size="8.1" text-anchor="end" fill="#222" transform="rotate(-90 249.70147058823528 513.0)">Paracentral</text>
<rect x="254.02" y="454.8" width="13.73" height="26.30" fill="#D5E7F1"/>
<rect x="254.02" y="481.1" width="13.73" height="26.30" fill="#FACAB1"/>
<text x="263.13" y="513.00" font-size="8.1" text-anchor="end" fill="#222" transform="rotate(-90 263.1338235294117 513.0)">Pars opercularis</text>
<rect x="267.45" y="454.8" width="13.73" height="26.30" fill="#FCDECD"/>
<rect x="267.45" y="481.1" width="13.73" height="26.30" fill="#C0DCEB"/>
<text x="276.57" y="513.00" font-size="8.1" text-anchor="end" fill="#222" transform="rotate(-90 276.5661764705882 513.0)">Pars orbitalis</text>
<rect x="280.88" y="454.8" width="13.73" height="26.30" fill="#CFE4EF"/>
<rect x="280.88" y="481.1" width="13.73" height="26.30" fill="#E1EDF3"/>
<text x="290.00" y="513.00" font-size="8.1" text-anchor="end" fill="#222" transform="rotate(-90 289.99852941176465 513.0)">Pars triangularis</text>
<rect x="294.31" y="454.8" width="13.73" height="26.30" fill="#75B2D4"/>
<rect x="294.31" y="481.1" width="13.73" height="26.30" fill="#D1E5F0"/>
<text x="303.43" y="513.00" font-size="8.1" text-anchor="end" fill="#222" transform="rotate(-90 303.4308823529411 513.0)">Pericalcarine</text>
<rect x="307.75" y="454.8" width="13.73" height="26.30" fill="#78B4D5"/>
<rect x="307.75" y="481.1" width="13.73" height="26.30" fill="#5CA3CB"/>
<text x="316.86" y="513.00" font-size="8.1" text-anchor="end" fill="#222" transform="rotate(-90 316.8632352941176 513.0)">Postcentral</text>
<rect x="321.18" y="454.8" width="13.73" height="26.30" fill="#E3EDF3"/>
<rect x="321.18" y="481.1" width="13.73" height="26.30" fill="#E4EEF4"/>
<text x="330.30" y="513.00" font-size="8.1" text-anchor="end" fill="#222" transform="rotate(-90 330.2955882352941 513.0)">Posterior cingulate</text>
<rect x="334.61" y="454.8" width="13.73" height="26.30" fill="#8DC2DC"/>
<rect x="334.61" y="481.1" width="13.73" height="26.30" fill="#8DC2DC"/>
<text x="343.73" y="513.00" font-size="8.1" text-anchor="end" fill="#222" transform="rotate(-90 343.72794117647055 513.0)">Precentral</text>
<rect x="348.04" y="454.8" width="13.73" height="26.30" fill="#3E8CBF"/>
<rect x="348.04" y="481.1" width="13.73" height="26.30" fill="#2267AC"/>
<text x="357.16" y="513.00" font-size="8.1" text-anchor="end" fill="#222" transform="rotate(-90 357.160294117647 513.0)">Precuneus</text>
<rect x="361.48" y="454.8" width="13.73" height="26.30" fill="#8DC2DC"/>
<rect x="361.48" y="481.1" width="13.73" height="26.30" fill="#9DCBE1"/>
<text x="370.59" y="513.00" font-size="8.1" text-anchor="end" fill="#222" transform="rotate(-90 370.5926470588235 513.0)">Rostral anterior cingulate</text>
<rect x="374.91" y="454.8" width="13.73" height="26.30" fill="#A9D1E5"/>
<rect x="374.91" y="481.1" width="13.73" height="26.30" fill="#C7E0ED"/>
<text x="384.02" y="513.00" font-size="8.1" text-anchor="end" fill="#222" transform="rotate(-90 384.025 513.0)">Rostral middle frontal</text>
<rect x="388.34" y="454.8" width="13.73" height="26.30" fill="#B3D6E8"/>
<rect x="388.34" y="481.1" width="13.73" height="26.30" fill="#A0CCE2"/>
<text x="397.46" y="513.00" font-size="8.1" text-anchor="end" fill="#222" transform="rotate(-90 397.45735294117645 513.0)">Superior frontal</text>
<rect x="401.77" y="454.8" width="13.73" height="26.30" fill="#78B4D5"/>
<rect x="401.77" y="481.1" width="13.73" height="26.30" fill="#5CA3CB"/>
<text x="410.89" y="513.00" font-size="8.1" text-anchor="end" fill="#222" transform="rotate(-90 410.88970588235287 513.0)">Superior parietal</text>
<rect x="415.21" y="454.8" width="13.73" height="26.30" fill="#A9D1E5"/>
<rect x="415.21" y="481.1" width="13.73" height="26.30" fill="#F3F5F6"/>
<text x="424.32" y="513.00" font-size="8.1" text-anchor="end" fill="#222" transform="rotate(-90 424.32205882352935 513.0)">Superior temporal</text>
<rect x="428.64" y="454.8" width="13.73" height="26.30" fill="#C7E0ED"/>
<rect x="428.64" y="481.1" width="13.73" height="26.30" fill="#C7E0ED"/>
<text x="437.75" y="513.00" font-size="8.1" text-anchor="end" fill="#222" transform="rotate(-90 437.7544117647058 513.0)">Supramarginal</text>
<rect x="442.07" y="454.8" width="13.73" height="26.30" fill="#FDDBC7"/>
<rect x="442.07" y="481.1" width="13.73" height="26.30" fill="#FAC8AF"/>
<text x="451.19" y="513.00" font-size="8.1" text-anchor="end" fill="#222" transform="rotate(-90 451.1867647058823 513.0)">Frontal pole</text>
<rect x="455.50" y="454.8" width="13.73" height="26.30" fill="#98C8E0"/>
<rect x="455.50" y="481.1" width="13.73" height="26.30" fill="#FDDCC9"/>
<text x="464.62" y="513.00" font-size="8.1" text-anchor="end" fill="#222" transform="rotate(-90 464.6191176470588 513.0)">Temporal pole</text>
<rect x="468.94" y="454.8" width="13.73" height="26.30" fill="#98C8E0"/>
<rect x="468.94" y="481.1" width="13.73" height="26.30" fill="#98C8E0"/>
<text x="478.05" y="513.00" font-size="8.1" text-anchor="end" fill="#222" transform="rotate(-90 478.05147058823525 513.0)">Transverse temporal</text>
<rect x="482.37" y="454.8" width="13.73" height="26.30" fill="#D5E7F1"/>
<rect x="482.37" y="481.1" width="13.73" height="26.30" fill="#FAE9DF"/>
<text x="491.48" y="513.00" font-size="8.1" text-anchor="end" fill="#222" transform="rotate(-90 491.4838235294117 513.0)">Insula</text>
<rect x="533.90" y="454.8" width="13.74" height="26.30" fill="#B1D5E7"/>
<rect x="533.90" y="481.1" width="13.74" height="26.30" fill="#A7D0E4"/>
<text x="543.02" y="513.00" font-size="8.1" text-anchor="end" fill="#222" transform="rotate(-90 543.0214285714285 513.0)">Thalamus</text>
<rect x="547.34" y="454.8" width="13.74" height="26.30" fill="#FCE2D2"/>
<rect x="547.34" y="481.1" width="13.74" height="26.30" fill="#C2DDEC"/>
<text x="556.46" y="513.00" font-size="8.1" text-anchor="end" fill="#222" transform="rotate(-90 556.4642857142857 513.0)">Caudate</text>
<rect x="560.79" y="454.8" width="13.74" height="26.30" fill="#6BACD1"/>
<rect x="560.79" y="481.1" width="13.74" height="26.30" fill="#307AB6"/>
<text x="569.91" y="513.00" font-size="8.1" text-anchor="end" fill="#222" transform="rotate(-90 569.9071428571427 513.0)">Putamen</text>
<rect x="574.23" y="454.8" width="13.74" height="26.30" fill="#DEEBF2"/>
<rect x="574.23" y="481.1" width="13.74" height="26.30" fill="#B6D7E8"/>
<text x="583.35" y="513.00" font-size="8.1" text-anchor="end" fill="#222" transform="rotate(-90 583.3499999999999 513.0)">Pallidum</text>
<rect x="587.67" y="454.8" width="13.74" height="26.30" fill="#6BACD1"/>
<rect x="587.67" y="481.1" width="13.74" height="26.30" fill="#D7E8F1"/>
<text x="596.79" y="513.00" font-size="8.1" text-anchor="end" fill="#222" transform="rotate(-90 596.7928571428571 513.0)">Hippocampus</text>
<rect x="601.11" y="454.8" width="13.74" height="26.30" fill="#5FA5CD"/>
<rect x="601.11" y="481.1" width="13.74" height="26.30" fill="#9BC9E0"/>
<text x="610.24" y="513.00" font-size="8.1" text-anchor="end" fill="#222" transform="rotate(-90 610.2357142857143 513.0)">Amygdala</text>
<rect x="614.56" y="454.8" width="13.74" height="26.30" fill="#E58368"/>
<rect x="614.56" y="481.1" width="13.74" height="26.30" fill="#F5AA89"/>
<text x="623.68" y="513.00" font-size="8.1" text-anchor="end" fill="#222" transform="rotate(-90 623.6785714285713 513.0)">Accumbens</text>
<text x="35.90" y="471.00" font-size="8.3" text-anchor="end" fill="#222">Right</text>
<text x="35.90" y="497.30" font-size="8.3" text-anchor="end" fill="#222">Left</text>
<text x="12.40" y="529.00" font-size="11.1" text-anchor="middle" fill="#222" transform="rotate(-90 12.4 529)">cortical thickness</text>
<text x="522.20" y="529.40" font-size="11.1" text-anchor="middle" fill="#222" transform="rotate(-90 522.2 529.4)">subcortical volume</text>
<defs><linearGradient id="cb" x1="0" y1="0" x2="0" y2="1"><stop offset="0.00" stop-color="#67001F"/><stop offset="0.05" stop-color="#8A0B25"/><stop offset="0.10" stop-color="#B1182B"/><stop offset="0.15" stop-color="#C43B3C"/><stop offset="0.20" stop-color="#D6604D"/><stop offset="0.25" stop-color="#E48066"/><stop offset="0.30" stop-color="#F3A481"/><stop offset="0.35" stop-color="#F8BFA4"/><stop offset="0.40" stop-color="#FDDBC7"/><stop offset="0.45" stop-color="#FAE9DF"/><stop offset="0.50" stop-color="#F7F6F6"/><stop offset="0.55" stop-color="#E4EEF4"/><stop offset="0.60" stop-color="#D1E5F0"/><stop offset="0.65" stop-color="#B1D5E7"/><stop offset="0.70" stop-color="#90C4DD"/><stop offset="0.75" stop-color="#6BACD1"/><stop offset="0.80" stop-color="#4393C3"/><stop offset="0.85" stop-color="#327CB7"/><stop offset="0.90" stop-color="#2065AB"/><stop offset="0.95" stop-color="#124984"/><stop offset="1.00" stop-color="#053061"/></linearGradient></defs>
<rect x="639.2" y="459" width="4.9" height="97" fill="url(#cb)"/>
<line x1="644.6" y1="467.80" x2="647.6" y2="467.80" stroke="#333" stroke-width="0.8"/>
<text x="651.30" y="470.75" font-size="8.4" text-anchor="start" fill="#222">0.3</text>
<line x1="644.6" y1="487.70" x2="647.6" y2="487.70" stroke="#333" stroke-width="0.8"/>
<text x="651.30" y="490.65" font-size="8.4" text-anchor="start" fill="#222">0.15</text>
<line x1="644.6" y1="507.60" x2="647.6" y2="507.60" stroke="#333" stroke-width="0.8"/>
<text x="651.30" y="510.55" font-size="8.4" text-anchor="start" fill="#222">0.0</text>
<line x1="644.6" y1="527.50" x2="647.6" y2="527.50" stroke="#333" stroke-width="0.8"/>
<text x="651.30" y="530.45" font-size="8.4" text-anchor="start" fill="#222">−0.15</text>
<line x1="644.6" y1="547.40" x2="647.6" y2="547.40" stroke="#333" stroke-width="0.8"/>
<text x="651.30" y="550.35" font-size="8.4" text-anchor="start" fill="#222">−0.3</text>
<text x="682.40" y="507.00" font-size="11.1" text-anchor="middle" fill="#222" transform="rotate(-90 682.4 507)">β<tspan font-size="7.5" dy="2">1</tspan><tspan dy="-2"> coefficient</tspan></text>
</svg></body></html>
